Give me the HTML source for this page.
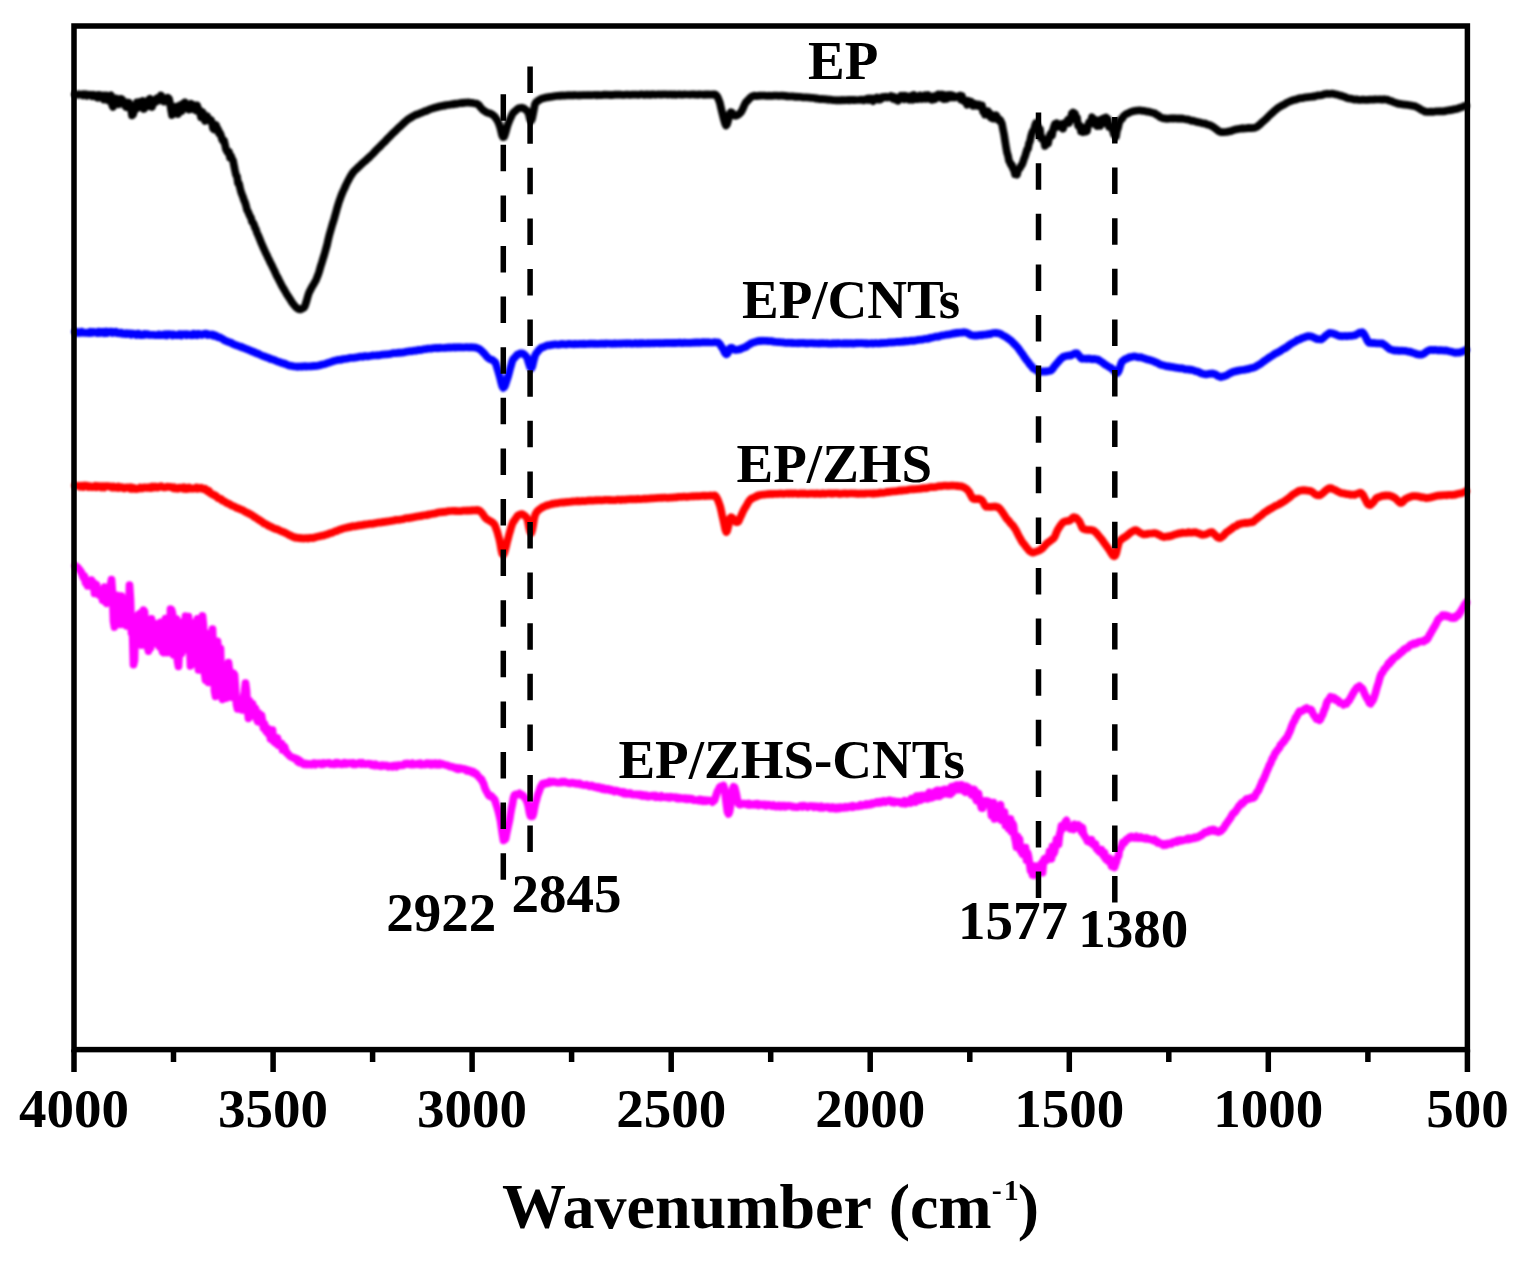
<!DOCTYPE html><html><head><meta charset="utf-8"><title>FTIR</title><style>html,body{margin:0;padding:0;background:#fff;}svg{display:block;}text{font-family:"Liberation Serif","Times New Roman",serif;font-weight:bold;fill:#000;}</style></head><body>
<svg width="1525" height="1262" viewBox="0 0 1525 1262">
<rect x="0" y="0" width="1525" height="1262" fill="#fff"/>
<defs><filter id="soft" x="-2%" y="-10%" width="104%" height="120%"><feGaussianBlur stdDeviation="0.8"/></filter></defs>
<g filter="url(#soft)">
<path d="M75.0,94.2L76.0,94.6L77.0,94.7L78.0,94.8L79.0,94.2L80.0,94.7L81.0,94.5L82.0,94.4L83.0,95.3L84.0,94.2L85.0,95.0L86.0,94.3L87.0,95.8L88.0,94.8L89.0,94.8L90.0,94.6L91.0,95.2L92.0,96.1L93.0,94.8L94.0,95.9L95.0,95.2L96.0,95.3L97.0,97.5L98.0,95.1L99.0,97.7L100.0,95.0L101.0,96.9L102.0,97.6L103.0,95.5L104.0,99.6L105.0,95.5L106.0,97.2L107.0,95.5L108.0,100.3L109.0,96.0L110.0,96.2L111.0,95.4L112.0,104.7L113.0,107.0L114.0,102.3L115.0,100.8L116.0,98.4L117.0,101.1L118.0,99.6L119.0,104.3L120.0,99.0L121.0,98.8L122.0,99.2L123.0,102.4L124.0,103.2L125.0,105.6L126.0,107.0L127.0,102.4L128.0,106.4L129.0,102.8L130.0,105.1L131.0,109.2L132.0,115.4L133.0,114.6L134.0,111.2L135.0,106.3L136.0,109.2L137.0,102.3L138.0,104.4L139.0,106.7L140.0,101.9L141.0,107.3L142.0,104.6L143.0,100.9L144.0,109.0L145.0,102.4L146.0,102.6L147.0,105.0L148.0,106.1L149.0,99.6L150.0,98.8L151.0,104.8L152.0,107.0L153.0,103.0L154.0,100.1L155.0,102.4L156.0,100.8L157.0,98.3L158.0,100.7L159.0,100.6L160.0,99.6L161.0,95.4L162.0,98.1L163.0,98.6L164.0,101.6L165.0,98.1L166.0,99.6L167.0,101.6L168.0,97.8L169.0,98.9L170.0,103.2L171.0,109.6L172.0,115.0L173.0,110.2L174.0,108.3L175.0,107.0L176.0,106.7L177.0,109.4L178.0,114.0L179.0,109.8L180.0,105.4L181.0,110.4L182.0,110.9L183.0,103.9L184.0,107.3L185.0,102.3L186.0,105.8L187.0,106.2L188.0,105.9L189.0,109.6L190.0,106.1L191.0,103.7L192.0,109.0L193.0,104.7L194.0,106.4L195.0,106.1L196.0,110.5L197.0,105.4L198.0,108.1L199.0,109.9L200.0,112.5L201.0,117.2L202.0,111.8L203.0,113.0L204.0,118.7L205.0,121.0L206.0,118.7L207.0,116.0L208.0,118.6L209.0,119.1L210.0,120.9L211.0,120.1L212.0,122.9L213.0,128.4L214.0,129.5L215.0,126.0L216.0,125.2L217.0,128.1L218.0,129.3L219.0,133.2L220.0,133.0L221.0,135.4L222.0,139.3L223.0,140.9L224.0,140.5L225.0,144.7L226.0,149.4L227.0,151.2L228.0,152.9L229.0,151.8L230.0,157.6L231.0,155.9L232.0,158.9L233.0,160.5L234.0,165.5L235.0,170.5L236.0,174.8L237.0,176.3L238.0,183.3L239.0,183.4L240.0,187.9L241.0,191.9L242.0,194.5L243.0,196.9L244.0,200.3L245.0,202.3L246.0,205.7L247.0,209.8L248.0,211.6L249.0,214.0L250.0,216.3L251.0,217.9L252.0,221.9L253.0,222.6L254.0,224.7L255.0,227.8L256.0,229.5L257.0,232.9L258.0,234.9L259.0,237.2L260.0,239.7L261.0,242.4L262.0,244.6L263.0,246.9L264.0,249.2L265.0,251.3L266.0,253.6L267.0,255.3L268.0,257.9L269.0,259.6L270.0,262.0L271.0,263.7L272.0,265.7L273.0,267.9L274.0,269.9L275.0,272.0L276.0,274.3L277.0,276.4L278.0,278.0L279.0,280.1L280.0,282.2L281.0,284.0L282.0,286.0L283.0,287.6L284.0,289.4L285.0,291.0L286.0,292.8L287.0,294.7L288.0,295.9L289.0,297.8L290.0,299.0L291.0,300.8L292.0,302.4L293.0,303.7L294.0,305.0L295.0,306.1L296.0,307.3L297.0,308.1L298.0,308.7L299.0,309.2L300.0,309.3L301.0,309.3L302.0,308.7L303.0,308.1L304.0,307.7L305.0,305.9L306.0,302.8L307.0,299.4L308.0,295.7L309.0,292.8L310.0,290.8L311.0,288.9L312.0,286.9L313.0,285.3L314.0,283.7L315.0,281.8L316.0,280.2L317.0,277.5L318.0,275.1L319.0,272.1L320.0,268.6L321.0,265.2L322.0,262.2L323.0,258.8L324.0,255.7L325.0,252.2L326.0,248.6L327.0,245.2L328.0,240.5L329.0,236.3L330.0,232.7L331.0,229.2L332.0,225.7L333.0,222.5L334.0,219.4L335.0,215.8L336.0,212.2L337.0,208.4L338.0,205.3L339.0,201.8L340.0,199.2L341.0,196.3L342.0,193.8L343.0,191.4L344.0,189.4L345.0,187.1L346.0,184.9L347.0,182.9L348.0,180.9L349.0,179.1L350.0,177.1L351.0,175.5L352.0,174.0L353.0,172.5L354.0,171.3L355.0,170.4L356.0,169.2L357.0,168.6L358.0,167.3L359.0,166.5L360.0,165.8L361.0,164.6L362.0,163.8L363.0,162.8L364.0,161.9L365.0,161.0L366.0,160.5L367.0,159.2L368.0,158.2L369.0,157.7L370.0,156.3L371.0,155.6L372.0,154.6L373.0,153.6L374.0,152.7L375.0,151.4L376.0,150.3L377.0,149.4L378.0,148.4L379.0,147.3L380.0,146.6L381.0,145.3L382.0,144.4L383.0,143.4L384.0,142.3L385.0,141.6L386.0,140.3L387.0,139.3L388.0,138.2L389.0,137.3L390.0,136.3L391.0,135.3L392.0,134.1L393.0,133.2L394.0,132.2L395.0,131.5L396.0,130.3L397.0,129.4L398.0,128.3L399.0,127.4L400.0,126.8L401.0,125.5L402.0,124.9L403.0,123.7L404.0,123.0L405.0,121.8L406.0,121.1L407.0,120.3L408.0,119.3L409.0,118.6L410.0,118.3L411.0,117.4L412.0,117.1L413.0,116.2L414.0,115.8L415.0,115.3L416.0,114.8L417.0,114.3L418.0,114.3L419.0,113.7L420.0,113.2L421.0,112.8L422.0,112.6L423.0,112.1L424.0,111.5L425.0,111.1L426.0,111.1L427.0,110.5L428.0,110.2L429.0,109.6L430.0,109.2L431.0,108.9L432.0,108.6L433.0,108.3L434.0,107.9L435.0,107.8L436.0,107.3L437.0,107.1L438.0,107.1L439.0,106.4L440.0,106.4L441.0,106.3L442.0,105.8L443.0,106.0L444.0,105.4L445.0,105.6L446.0,105.0L447.0,105.0L448.0,104.8L449.0,104.8L450.0,104.7L451.0,104.3L452.0,104.5L453.0,104.2L454.0,104.3L455.0,103.7L456.0,103.7L457.0,103.9L458.0,103.5L459.0,103.3L460.0,103.1L461.0,103.3L462.0,102.7L463.0,103.1L464.0,102.7L465.0,102.8L466.0,102.5L467.0,102.7L468.0,102.3L469.0,102.5L470.0,102.8L471.0,103.0L472.0,102.9L473.0,102.9L474.0,103.4L475.0,103.5L476.0,103.5L477.0,103.8L478.0,104.5L479.0,105.2L480.0,106.7L481.0,107.9L482.0,108.9L483.0,110.1L484.0,110.6L485.0,111.2L486.0,112.0L487.0,112.5L488.0,112.9L489.0,113.0L490.0,113.4L491.0,114.0L492.0,114.4L493.0,115.1L494.0,115.9L495.0,116.9L496.0,118.6L497.0,119.8L498.0,121.7L499.0,124.0L500.0,126.9L501.0,130.9L502.0,135.0L503.0,137.1L504.0,136.9L505.0,134.5L506.0,131.1L507.0,127.2L508.0,124.1L509.0,121.6L510.0,119.1L511.0,117.1L512.0,114.8L513.0,113.2L514.0,112.1L515.0,111.2L516.0,110.4L517.0,109.4L518.0,108.7L519.0,108.1L520.0,108.0L521.0,107.9L522.0,107.7L523.0,108.3L524.0,108.4L525.0,109.4L526.0,109.9L527.0,111.0L528.0,112.1L529.0,115.1L530.0,119.2L531.0,120.8L532.0,119.0L533.0,114.3L534.0,109.0L535.0,104.1L536.0,102.4L537.0,101.8L538.0,100.8L539.0,100.3L540.0,99.5L541.0,99.2L542.0,98.5L543.0,98.3L544.0,98.1L545.0,97.9L546.0,97.4L547.0,97.3L548.0,97.4L549.0,96.8L550.0,97.0L551.0,96.8L552.0,96.8L553.0,96.4L554.0,96.3L555.0,96.2L556.0,96.0L557.0,95.8L558.0,95.9L559.0,95.7L560.0,95.7L561.0,95.8L562.0,95.5L563.0,95.4L564.0,95.7L565.0,95.7L566.0,95.3L567.0,95.5L568.0,95.3L569.0,95.5L570.0,95.2L571.0,95.5L572.0,95.5L573.0,95.1L574.0,95.3L575.0,95.2L576.0,95.1L577.0,95.4L578.0,95.4L579.0,95.2L580.0,95.2L581.0,95.4L582.0,95.1L583.0,95.1L584.0,95.0L585.0,95.1L586.0,95.0L587.0,95.0L588.0,95.2L589.0,95.0L590.0,95.2L591.0,95.2L592.0,95.1L593.0,95.0L594.0,95.0L595.0,94.8L596.0,95.2L597.0,95.3L598.0,94.9L599.0,95.1L600.0,95.0L601.0,95.2L602.0,95.1L603.0,94.8L604.0,94.7L605.0,94.8L606.0,94.7L607.0,95.0L608.0,94.7L609.0,95.0L610.0,95.1L611.0,94.7L612.0,95.1L613.0,95.0L614.0,94.6L615.0,94.8L616.0,94.6L617.0,94.8L618.0,94.6L619.0,94.8L620.0,94.6L621.0,94.6L622.0,95.0L623.0,94.8L624.0,94.8L625.0,94.8L626.0,94.6L627.0,94.5L628.0,94.6L629.0,94.8L630.0,94.8L631.0,94.8L632.0,94.6L633.0,94.6L634.0,94.7L635.0,94.6L636.0,94.5L637.0,94.6L638.0,94.9L639.0,94.9L640.0,94.4L641.0,94.4L642.0,94.4L643.0,94.5L644.0,94.8L645.0,94.5L646.0,94.4L647.0,94.8L648.0,94.4L649.0,94.5L650.0,94.8L651.0,94.8L652.0,94.3L653.0,94.4L654.0,94.4L655.0,94.7L656.0,94.6L657.0,94.5L658.0,94.4L659.0,94.4L660.0,94.5L661.0,94.7L662.0,94.4L663.0,94.4L664.0,94.4L665.0,94.4L666.0,94.3L667.0,94.5L668.0,94.7L669.0,94.5L670.0,94.4L671.0,94.4L672.0,94.8L673.0,94.6L674.0,94.4L675.0,94.7L676.0,94.8L677.0,94.5L678.0,94.5L679.0,94.4L680.0,94.4L681.0,94.7L682.0,94.6L683.0,94.7L684.0,94.3L685.0,94.4L686.0,94.5L687.0,94.5L688.0,94.5L689.0,94.5L690.0,94.7L691.0,94.5L692.0,94.4L693.0,94.5L694.0,94.4L695.0,94.6L696.0,94.6L697.0,94.6L698.0,94.8L699.0,94.5L700.0,94.3L701.0,94.5L702.0,94.5L703.0,94.7L704.0,94.8L705.0,94.3L706.0,94.8L707.0,94.3L708.0,94.6L709.0,94.3L710.0,94.7L711.0,94.5L712.0,94.4L713.0,94.8L714.0,94.3L715.0,94.4L716.0,94.9L717.0,96.1L718.0,98.0L719.0,100.4L720.0,103.3L721.0,107.8L722.0,112.0L723.0,116.1L724.0,120.0L725.0,123.5L726.0,125.5L727.0,124.3L728.0,121.1L729.0,116.4L730.0,113.3L731.0,112.2L732.0,112.7L733.0,114.3L734.0,115.3L735.0,115.8L736.0,115.6L737.0,115.4L738.0,114.8L739.0,114.1L740.0,113.2L741.0,112.1L742.0,110.5L743.0,108.3L744.0,106.0L745.0,103.8L746.0,102.0L747.0,101.4L748.0,100.0L749.0,99.3L750.0,97.9L751.0,97.3L752.0,96.4L753.0,96.3L754.0,95.7L755.0,95.8L756.0,96.1L757.0,95.9L758.0,95.8L759.0,95.7L760.0,95.8L761.0,95.6L762.0,95.6L763.0,95.7L764.0,95.6L765.0,95.7L766.0,95.8L767.0,96.0L768.0,96.0L769.0,95.7L770.0,95.8L771.0,95.9L772.0,95.9L773.0,95.7L774.0,95.6L775.0,95.7L776.0,95.7L777.0,95.7L778.0,95.7L779.0,95.9L780.0,95.7L781.0,95.7L782.0,95.7L783.0,95.8L784.0,95.7L785.0,95.9L786.0,96.3L787.0,96.2L788.0,96.2L789.0,96.4L790.0,96.4L791.0,96.3L792.0,96.4L793.0,96.3L794.0,96.5L795.0,96.9L796.0,96.7L797.0,96.7L798.0,96.9L799.0,96.9L800.0,96.9L801.0,97.0L802.0,97.0L803.0,97.5L804.0,97.5L805.0,97.4L806.0,97.3L807.0,97.4L808.0,97.5L809.0,97.7L810.0,97.7L811.0,97.8L812.0,97.8L813.0,97.9L814.0,98.0L815.0,98.1L816.0,98.7L817.0,98.4L818.0,98.5L819.0,99.0L820.0,99.2L821.0,99.1L822.0,98.9L823.0,99.0L824.0,99.1L825.0,99.2L826.0,99.5L827.0,99.4L828.0,99.8L829.0,99.7L830.0,99.7L831.0,99.7L832.0,100.0L833.0,100.2L834.0,100.1L835.0,100.0L836.0,100.4L837.0,100.2L838.0,100.2L839.0,100.4L840.0,100.3L841.0,100.0L842.0,100.3L843.0,100.1L844.0,100.3L845.0,100.2L846.0,100.2L847.0,100.0L848.0,99.9L849.0,100.4L850.0,99.8L851.0,99.8L852.0,100.0L853.0,100.2L854.0,99.9L855.0,100.2L856.0,100.0L857.0,100.0L858.0,100.0L859.0,100.0L860.0,100.0L861.0,99.5L862.0,99.9L863.0,99.6L864.0,100.4L865.0,99.7L866.0,99.3L867.0,98.8L868.0,99.9L869.0,98.5L870.0,99.7L871.0,98.6L872.0,99.7L873.0,101.1L874.0,98.5L875.0,99.1L876.0,99.0L877.0,97.6L878.0,99.7L879.0,99.4L880.0,99.7L881.0,97.5L882.0,97.1L883.0,97.9L884.0,96.8L885.0,97.2L886.0,96.6L887.0,97.6L888.0,97.3L889.0,97.1L890.0,97.3L891.0,96.2L892.0,97.5L893.0,98.7L894.0,96.8L895.0,98.0L896.0,99.8L897.0,97.7L898.0,100.9L899.0,99.4L900.0,97.7L901.0,95.7L902.0,97.1L903.0,95.9L904.0,99.2L905.0,95.8L906.0,96.1L907.0,96.0L908.0,99.1L909.0,99.7L910.0,98.4L911.0,99.3L912.0,95.6L913.0,99.8L914.0,95.0L915.0,95.9L916.0,99.0L917.0,97.8L918.0,99.0L919.0,98.5L920.0,95.5L921.0,96.3L922.0,99.0L923.0,97.5L924.0,97.9L925.0,95.1L926.0,98.7L927.0,96.7L928.0,95.1L929.0,96.8L930.0,99.0L931.0,96.6L932.0,99.9L933.0,99.0L934.0,96.3L935.0,99.2L936.0,97.6L937.0,95.2L938.0,94.4L939.0,94.4L940.0,96.3L941.0,97.8L942.0,94.4L943.0,94.8L944.0,99.2L945.0,98.0L946.0,95.1L947.0,98.7L948.0,95.9L949.0,94.9L950.0,95.2L951.0,94.9L952.0,97.5L953.0,95.4L954.0,97.0L955.0,97.5L956.0,96.9L957.0,96.7L958.0,96.4L959.0,95.9L960.0,95.5L961.0,99.6L962.0,96.0L963.0,100.4L964.0,101.2L965.0,101.9L966.0,101.1L967.0,104.7L968.0,100.7L969.0,102.2L970.0,102.0L971.0,101.7L972.0,104.8L973.0,105.9L974.0,105.9L975.0,103.7L976.0,104.3L977.0,105.1L978.0,105.9L979.0,104.7L980.0,105.9L981.0,105.7L982.0,105.4L983.0,111.5L984.0,109.9L985.0,114.6L986.0,111.6L987.0,112.5L988.0,111.3L989.0,115.7L990.0,113.5L991.0,117.6L992.0,115.0L993.0,118.6L994.0,118.7L995.0,116.8L996.0,115.2L997.0,116.8L998.0,119.4L999.0,120.6L1000.0,119.8L1001.0,121.7L1002.0,124.1L1003.0,129.4L1004.0,134.2L1005.0,140.7L1006.0,146.8L1007.0,152.5L1008.0,155.7L1009.0,160.8L1010.0,162.5L1011.0,164.9L1012.0,165.0L1013.0,168.7L1014.0,170.2L1015.0,174.2L1016.0,173.3L1017.0,174.7L1018.0,170.6L1019.0,168.9L1020.0,168.1L1021.0,165.7L1022.0,164.7L1023.0,162.1L1024.0,158.8L1025.0,156.5L1026.0,153.2L1027.0,149.6L1028.0,148.8L1029.0,143.6L1030.0,141.2L1031.0,136.6L1032.0,133.0L1033.0,130.7L1034.0,129.9L1035.0,125.6L1036.0,123.0L1037.0,126.0L1038.0,127.0L1039.0,129.9L1040.0,129.1L1041.0,138.0L1042.0,137.5L1043.0,139.7L1044.0,141.1L1045.0,145.9L1046.0,141.2L1047.0,140.5L1048.0,143.7L1049.0,138.6L1050.0,135.0L1051.0,133.3L1052.0,135.7L1053.0,129.8L1054.0,126.6L1055.0,124.0L1056.0,127.4L1057.0,123.2L1058.0,126.5L1059.0,126.2L1060.0,126.5L1061.0,127.1L1062.0,123.9L1063.0,128.7L1064.0,125.8L1065.0,123.2L1066.0,122.2L1067.0,122.1L1068.0,119.7L1069.0,123.1L1070.0,118.4L1071.0,117.4L1072.0,113.2L1073.0,112.4L1074.0,112.9L1075.0,113.7L1076.0,119.8L1077.0,117.6L1078.0,125.4L1079.0,126.8L1080.0,125.6L1081.0,131.4L1082.0,127.8L1083.0,132.2L1084.0,128.0L1085.0,130.3L1086.0,131.6L1087.0,131.1L1088.0,125.3L1089.0,122.4L1090.0,122.8L1091.0,121.0L1092.0,117.3L1093.0,120.3L1094.0,123.8L1095.0,119.6L1096.0,122.9L1097.0,126.1L1098.0,122.6L1099.0,125.7L1100.0,125.9L1101.0,119.6L1102.0,119.7L1103.0,118.5L1104.0,123.2L1105.0,120.1L1106.0,117.4L1107.0,119.2L1108.0,119.3L1109.0,126.8L1110.0,126.3L1111.0,127.6L1112.0,126.2L1113.0,131.2L1114.0,134.6L1115.0,135.1L1116.0,136.5L1117.0,130.6L1118.0,127.9L1119.0,123.4L1120.0,120.9L1121.0,119.0L1122.0,119.0L1123.0,117.0L1124.0,115.7L1125.0,115.1L1126.0,114.1L1127.0,113.6L1128.0,113.5L1129.0,112.7L1130.0,112.3L1131.0,111.9L1132.0,111.6L1133.0,111.3L1134.0,111.0L1135.0,111.0L1136.0,110.6L1137.0,110.7L1138.0,110.5L1139.0,110.4L1140.0,110.4L1141.0,110.5L1142.0,110.8L1143.0,110.8L1144.0,110.8L1145.0,111.1L1146.0,111.4L1147.0,111.6L1148.0,111.5L1149.0,111.8L1150.0,112.2L1151.0,112.3L1152.0,112.6L1153.0,113.0L1154.0,113.0L1155.0,113.4L1156.0,114.3L1157.0,115.0L1158.0,115.3L1159.0,116.0L1160.0,117.1L1161.0,117.5L1162.0,117.9L1163.0,118.2L1164.0,118.5L1165.0,118.3L1166.0,118.8L1167.0,118.8L1168.0,118.6L1169.0,118.8L1170.0,118.4L1171.0,118.3L1172.0,118.6L1173.0,118.4L1174.0,118.6L1175.0,118.3L1176.0,118.4L1177.0,118.6L1178.0,118.8L1179.0,118.3L1180.0,118.5L1181.0,118.8L1182.0,118.4L1183.0,118.7L1184.0,119.0L1185.0,119.0L1186.0,119.4L1187.0,119.4L1188.0,119.6L1189.0,119.7L1190.0,120.1L1191.0,120.7L1192.0,120.9L1193.0,120.7L1194.0,121.0L1195.0,121.2L1196.0,121.9L1197.0,121.8L1198.0,122.0L1199.0,122.5L1200.0,122.4L1201.0,122.7L1202.0,123.1L1203.0,123.5L1204.0,123.3L1205.0,123.5L1206.0,123.8L1207.0,124.5L1208.0,124.5L1209.0,125.0L1210.0,125.0L1211.0,125.8L1212.0,126.1L1213.0,126.9L1214.0,127.4L1215.0,128.2L1216.0,129.1L1217.0,129.6L1218.0,130.7L1219.0,131.2L1220.0,131.7L1221.0,132.1L1222.0,132.1L1223.0,132.1L1224.0,132.2L1225.0,132.0L1226.0,132.0L1227.0,132.0L1228.0,131.5L1229.0,131.3L1230.0,131.3L1231.0,131.1L1232.0,130.5L1233.0,130.2L1234.0,130.2L1235.0,129.5L1236.0,129.3L1237.0,129.3L1238.0,129.0L1239.0,128.9L1240.0,128.5L1241.0,128.6L1242.0,128.2L1243.0,128.6L1244.0,128.4L1245.0,128.5L1246.0,128.3L1247.0,128.3L1248.0,127.9L1249.0,128.1L1250.0,127.8L1251.0,128.2L1252.0,128.1L1253.0,127.8L1254.0,128.0L1255.0,127.8L1256.0,127.2L1257.0,126.8L1258.0,125.9L1259.0,125.1L1260.0,124.5L1261.0,123.3L1262.0,122.4L1263.0,121.5L1264.0,120.9L1265.0,119.9L1266.0,118.9L1267.0,118.1L1268.0,116.9L1269.0,115.9L1270.0,114.9L1271.0,114.1L1272.0,113.0L1273.0,112.4L1274.0,111.2L1275.0,110.3L1276.0,109.6L1277.0,108.7L1278.0,107.9L1279.0,107.3L1280.0,106.7L1281.0,106.1L1282.0,105.5L1283.0,105.0L1284.0,104.6L1285.0,104.1L1286.0,103.3L1287.0,102.8L1288.0,102.2L1289.0,101.8L1290.0,101.4L1291.0,100.9L1292.0,100.7L1293.0,100.1L1294.0,100.0L1295.0,99.7L1296.0,99.6L1297.0,99.3L1298.0,98.7L1299.0,98.6L1300.0,98.3L1301.0,98.0L1302.0,98.1L1303.0,98.2L1304.0,97.5L1305.0,97.4L1306.0,97.3L1307.0,97.3L1308.0,97.0L1309.0,97.1L1310.0,96.8L1311.0,97.0L1312.0,96.5L1313.0,96.4L1314.0,96.6L1315.0,96.0L1316.0,96.1L1317.0,95.6L1318.0,95.4L1319.0,95.5L1320.0,95.4L1321.0,95.0L1322.0,95.1L1323.0,94.8L1324.0,94.2L1325.0,94.1L1326.0,94.0L1327.0,93.7L1328.0,93.8L1329.0,93.9L1330.0,93.8L1331.0,93.8L1332.0,93.6L1333.0,93.8L1334.0,93.8L1335.0,94.2L1336.0,94.5L1337.0,94.6L1338.0,94.8L1339.0,95.2L1340.0,95.6L1341.0,95.5L1342.0,96.0L1343.0,96.5L1344.0,96.5L1345.0,97.0L1346.0,97.5L1347.0,98.0L1348.0,98.2L1349.0,98.5L1350.0,98.6L1351.0,98.7L1352.0,98.8L1353.0,99.2L1354.0,99.5L1355.0,99.7L1356.0,99.3L1357.0,99.3L1358.0,99.7L1359.0,100.0L1360.0,100.0L1361.0,99.9L1362.0,99.7L1363.0,99.6L1364.0,99.8L1365.0,99.9L1366.0,99.9L1367.0,99.9L1368.0,100.0L1369.0,99.5L1370.0,99.7L1371.0,99.6L1372.0,99.6L1373.0,99.6L1374.0,99.6L1375.0,99.4L1376.0,99.4L1377.0,99.5L1378.0,99.5L1379.0,99.4L1380.0,99.5L1381.0,99.4L1382.0,99.6L1383.0,99.6L1384.0,99.2L1385.0,99.5L1386.0,99.6L1387.0,99.6L1388.0,99.8L1389.0,100.5L1390.0,100.8L1391.0,100.8L1392.0,101.4L1393.0,102.0L1394.0,102.2L1395.0,102.6L1396.0,103.0L1397.0,103.3L1398.0,103.8L1399.0,103.7L1400.0,103.9L1401.0,104.1L1402.0,104.3L1403.0,104.4L1404.0,104.6L1405.0,104.5L1406.0,104.8L1407.0,104.9L1408.0,104.9L1409.0,105.3L1410.0,105.3L1411.0,105.4L1412.0,105.8L1413.0,105.9L1414.0,106.0L1415.0,106.1L1416.0,106.8L1417.0,107.1L1418.0,107.7L1419.0,108.4L1420.0,108.8L1421.0,109.7L1422.0,110.3L1423.0,110.5L1424.0,110.9L1425.0,111.7L1426.0,111.5L1427.0,112.0L1428.0,111.9L1429.0,111.9L1430.0,111.6L1431.0,112.0L1432.0,111.6L1433.0,111.9L1434.0,111.7L1435.0,111.5L1436.0,111.4L1437.0,111.3L1438.0,111.4L1439.0,111.3L1440.0,111.2L1441.0,111.4L1442.0,111.5L1443.0,111.2L1444.0,111.3L1445.0,111.2L1446.0,110.7L1447.0,110.6L1448.0,110.5L1449.0,110.2L1450.0,110.3L1451.0,110.0L1452.0,109.7L1453.0,109.8L1454.0,109.3L1455.0,109.0L1456.0,109.1L1457.0,108.7L1458.0,108.6L1459.0,108.0L1460.0,107.7L1461.0,107.4L1462.0,107.1L1463.0,106.8L1464.0,106.3L1465.0,105.8L1466.0,105.8" fill="none" stroke="#000" stroke-width="7.7" stroke-linejoin="round" stroke-linecap="round"/>
<path d="M75.2,331.9L76.2,333.0L77.2,332.0L78.2,332.7L79.2,332.9L80.2,332.8L81.2,331.5L82.2,331.7L83.2,332.8L84.2,332.6L85.2,332.9L86.2,332.7L87.2,332.7L88.2,333.0L89.2,333.1L90.2,331.8L91.2,332.9L92.2,333.0L93.2,331.8L94.2,332.1L95.2,332.5L96.2,332.5L97.2,333.0L98.2,331.5L99.2,331.6L100.2,332.9L101.2,331.8L102.2,332.1L103.2,331.6L104.2,333.1L105.2,332.2L106.2,331.5L107.2,333.1L108.2,332.6L109.2,331.8L110.2,331.7L111.2,331.7L112.2,332.8L113.2,331.9L114.2,332.0L115.2,332.7L116.2,331.9L117.2,333.2L118.2,333.2L119.2,333.3L120.2,332.6L121.2,332.6L122.2,333.7L123.2,334.0L124.2,333.6L125.2,334.0L126.2,333.2L127.2,334.1L128.2,333.4L129.2,333.5L130.2,333.4L131.2,334.7L132.2,333.6L133.2,333.7L134.2,333.9L135.2,334.0L136.2,335.0L137.2,333.6L138.2,333.6L139.2,333.8L140.2,335.1L141.2,335.1L142.2,335.2L143.2,334.6L144.2,333.9L145.2,334.8L146.2,334.1L147.2,334.0L148.2,334.2L149.2,335.0L150.2,334.9L151.2,335.0L152.2,334.9L153.2,334.9L154.2,334.9L155.2,335.2L156.2,335.1L157.2,335.1L158.2,334.5L159.2,334.4L160.2,335.2L161.2,335.1L162.2,335.2L163.2,334.5L164.2,334.3L165.2,335.3L166.2,334.4L167.2,335.4L168.2,334.1L169.2,334.2L170.2,334.3L171.2,334.3L172.2,335.4L173.2,334.3L174.2,334.5L175.2,335.1L176.2,335.0L177.2,335.3L178.2,335.1L179.2,334.1L180.2,334.1L181.2,335.5L182.2,334.3L183.2,334.2L184.2,334.4L185.2,334.1L186.2,335.2L187.2,334.3L188.2,334.9L189.2,334.4L190.2,334.9L191.2,335.4L192.2,334.5L193.2,333.8L194.2,335.0L195.2,334.0L196.2,334.0L197.2,335.1L198.2,333.9L199.2,333.9L200.2,334.2L201.2,334.9L202.2,334.8L203.2,334.1L204.2,333.8L205.2,333.7L206.2,333.7L207.2,334.9L208.2,334.1L209.2,334.4L210.2,335.0L211.2,334.7L212.2,334.4L213.2,335.8L214.2,335.0L215.2,335.5L216.2,335.5L217.2,336.9L218.2,337.4L219.2,337.2L220.2,337.5L221.2,338.3L222.2,338.7L223.2,339.2L224.2,340.2L225.2,340.6L226.2,341.1L227.2,341.3L228.2,341.9L229.2,342.2L230.2,342.5L231.2,342.8L232.2,343.7L233.2,343.8L234.2,344.5L235.2,344.9L236.2,345.0L237.2,345.6L238.2,345.9L239.2,346.4L240.2,346.9L241.2,346.7L242.2,347.6L243.2,347.6L244.2,348.0L245.2,348.7L246.2,348.8L247.2,349.4L248.2,349.6L249.2,350.0L250.2,350.6L251.2,350.8L252.2,351.7L253.2,351.5L254.2,352.0L255.2,352.9L256.2,352.9L257.2,353.6L258.2,353.7L259.2,354.4L260.2,354.7L261.2,355.3L262.2,355.7L263.2,356.1L264.2,356.3L265.2,356.8L266.2,357.3L267.2,357.4L268.2,358.0L269.2,358.1L270.2,358.9L271.2,359.2L272.2,359.2L273.2,359.6L274.2,360.1L275.2,360.3L276.2,360.9L277.2,361.4L278.2,361.7L279.2,361.9L280.2,362.2L281.2,362.9L282.2,363.0L283.2,363.1L284.2,363.8L285.2,363.7L286.2,364.4L287.2,364.7L288.2,365.3L289.2,365.6L290.2,365.5L291.2,366.0L292.2,365.9L293.2,366.4L294.2,366.4L295.2,366.5L296.2,366.5L297.2,366.8L298.2,366.7L299.2,366.7L300.2,366.5L301.2,366.4L302.2,366.8L303.2,366.4L304.2,366.2L305.2,366.2L306.2,366.6L307.2,366.3L308.2,366.5L309.2,366.4L310.2,366.4L311.2,366.0L312.2,366.3L313.2,365.9L314.2,365.9L315.2,366.1L316.2,365.8L317.2,365.9L318.2,365.5L319.2,365.3L320.2,365.3L321.2,364.8L322.2,364.5L323.2,364.4L324.2,364.0L325.2,364.0L326.2,363.5L327.2,363.1L328.2,362.7L329.2,362.7L330.2,362.3L331.2,361.9L332.2,361.4L333.2,361.3L334.2,360.8L335.2,360.6L336.2,360.5L337.2,360.1L338.2,359.9L339.2,360.0L340.2,360.0L341.2,359.4L342.2,359.6L343.2,359.1L344.2,359.0L345.2,358.8L346.2,358.9L347.2,358.6L348.2,358.5L349.2,358.0L350.2,357.9L351.2,357.8L352.2,357.9L353.2,357.9L354.2,357.7L355.2,357.6L356.2,357.4L357.2,357.3L358.2,357.1L359.2,356.7L360.2,356.7L361.2,356.5L362.2,356.8L363.2,356.7L364.2,356.2L365.2,356.2L366.2,356.0L367.2,356.4L368.2,356.3L369.2,356.1L370.2,356.0L371.2,355.8L372.2,355.6L373.2,355.4L374.2,355.5L375.2,355.5L376.2,355.5L377.2,355.0L378.2,355.4L379.2,355.2L380.2,355.1L381.2,354.6L382.2,354.7L383.2,354.7L384.2,354.3L385.2,354.5L386.2,354.4L387.2,354.3L388.2,354.1L389.2,354.1L390.2,354.0L391.2,353.8L392.2,353.3L393.2,353.2L394.2,353.2L395.2,353.1L396.2,353.2L397.2,352.9L398.2,352.8L399.2,352.5L400.2,352.8L401.2,352.5L402.2,352.6L403.2,352.4L404.2,352.3L405.2,352.1L406.2,351.6L407.2,351.6L408.2,351.6L409.2,351.3L410.2,351.1L411.2,351.3L412.2,351.2L413.2,350.8L414.2,350.6L415.2,350.8L416.2,350.7L417.2,350.2L418.2,350.1L419.2,349.9L420.2,350.1L421.2,350.0L422.2,349.8L423.2,349.3L424.2,349.2L425.2,349.2L426.2,349.1L427.2,348.7L428.2,348.6L429.2,348.7L430.2,348.7L431.2,348.6L432.2,348.4L433.2,348.0L434.2,348.0L435.2,348.2L436.2,347.9L437.2,348.3L438.2,347.8L439.2,348.1L440.2,347.7L441.2,348.0L442.2,348.0L443.2,348.0L444.2,347.9L445.2,347.9L446.2,347.8L447.2,347.5L448.2,347.6L449.2,347.4L450.2,347.4L451.2,347.7L452.2,347.3L453.2,347.3L454.2,347.2L455.2,347.6L456.2,347.2L457.2,347.5L458.2,347.1L459.2,347.5L460.2,347.1L461.2,347.4L462.2,347.5L463.2,347.4L464.2,347.3L465.2,347.4L466.2,347.1L467.2,347.0L468.2,347.4L469.2,347.4L470.2,347.0L471.2,347.2L472.2,347.5L473.2,347.3L474.2,347.4L475.2,347.6L476.2,347.7L477.2,348.3L478.2,348.4L479.2,348.9L480.2,349.6L481.2,350.5L482.2,351.4L483.2,352.7L484.2,353.4L485.2,354.7L486.2,355.8L487.2,357.1L488.2,358.0L489.2,358.7L490.2,359.3L491.2,359.7L492.2,359.9L493.2,360.6L494.2,361.4L495.2,362.2L496.2,364.7L497.2,368.2L498.2,371.4L499.2,374.8L500.2,378.6L501.2,382.7L502.2,386.1L503.2,387.9L504.2,387.2L505.2,385.4L506.2,382.4L507.2,379.2L508.2,376.0L509.2,372.3L510.2,368.4L511.2,365.0L512.2,361.4L513.2,359.2L514.2,358.1L515.2,357.2L516.2,355.9L517.2,354.8L518.2,354.3L519.2,354.1L520.2,353.3L521.2,353.5L522.2,353.4L523.2,353.7L524.2,354.5L525.2,355.4L526.2,356.5L527.2,357.8L528.2,361.4L529.2,364.6L530.2,367.5L531.2,368.4L532.2,366.8L533.2,362.7L534.2,358.6L535.2,355.1L536.2,353.4L537.2,352.2L538.2,350.9L539.2,349.5L540.2,348.9L541.2,347.7L542.2,347.6L543.2,347.0L544.2,346.7L545.2,346.2L546.2,345.8L547.2,345.5L548.2,345.2L549.2,345.4L550.2,345.3L551.2,344.7L552.2,345.0L553.2,344.8L554.2,344.4L555.2,344.3L556.2,344.3L557.2,344.7L558.2,344.5L559.2,344.6L560.2,344.2L561.2,344.1L562.2,344.3L563.2,344.0L564.2,344.2L565.2,344.3L566.2,344.4L567.2,344.3L568.2,343.9L569.2,343.9L570.2,343.9L571.2,344.2L572.2,344.2L573.2,344.2L574.2,344.3L575.2,343.9L576.2,344.1L577.2,344.2L578.2,344.2L579.2,343.9L580.2,343.8L581.2,343.8L582.2,344.2L583.2,343.8L584.2,343.7L585.2,344.1L586.2,344.0L587.2,343.9L588.2,344.0L589.2,343.7L590.2,343.8L591.2,343.7L592.2,343.6L593.2,344.0L594.2,343.7L595.2,343.7L596.2,343.9L597.2,343.9L598.2,344.0L599.2,343.9L600.2,343.6L601.2,343.5L602.2,343.8L603.2,343.5L604.2,343.6L605.2,344.0L606.2,343.4L607.2,343.5L608.2,343.5L609.2,343.6L610.2,343.7L611.2,343.5L612.2,343.9L613.2,343.7L614.2,343.4L615.2,343.8L616.2,343.7L617.2,343.5L618.2,343.7L619.2,343.7L620.2,343.4L621.2,343.7L622.2,343.6L623.2,343.3L624.2,343.3L625.2,343.3L626.2,343.6L627.2,343.2L628.2,343.4L629.2,343.4L630.2,343.2L631.2,343.7L632.2,343.6L633.2,343.7L634.2,343.3L635.2,343.2L636.2,343.2L637.2,343.7L638.2,343.6L639.2,343.1L640.2,343.0L641.2,343.6L642.2,343.1L643.2,343.2L644.2,343.5L645.2,343.5L646.2,343.3L647.2,343.5L648.2,343.2L649.2,343.2L650.2,343.3L651.2,343.3L652.2,343.1L653.2,343.3L654.2,343.3L655.2,343.0L656.2,343.2L657.2,343.2L658.2,343.2L659.2,343.2L660.2,343.3L661.2,343.0L662.2,343.1L663.2,343.3L664.2,342.9L665.2,343.2L666.2,342.8L667.2,342.8L668.2,343.2L669.2,342.8L670.2,342.8L671.2,343.2L672.2,342.8L673.2,342.9L674.2,343.1L675.2,342.9L676.2,343.1L677.2,342.8L678.2,343.0L679.2,342.7L680.2,342.6L681.2,343.0L682.2,343.1L683.2,343.0L684.2,342.5L685.2,342.7L686.2,342.9L687.2,342.8L688.2,342.9L689.2,343.0L690.2,342.8L691.2,342.9L692.2,342.5L693.2,342.6L694.2,342.8L695.2,342.3L696.2,342.6L697.2,342.6L698.2,342.3L699.2,342.6L700.2,342.6L701.2,342.5L702.2,342.2L703.2,342.3L704.2,342.5L705.2,342.2L706.2,342.5L707.2,342.5L708.2,342.1L709.2,342.4L710.2,342.5L711.2,342.5L712.2,342.5L713.2,342.5L714.2,342.1L715.2,342.1L716.2,342.5L717.2,342.5L718.2,342.4L719.2,343.4L720.2,344.5L721.2,346.3L722.2,347.8L723.2,349.0L724.2,351.5L725.2,353.2L726.2,354.4L727.2,353.9L728.2,352.3L729.2,349.7L730.2,348.1L731.2,347.7L732.2,348.0L733.2,348.7L734.2,349.5L735.2,350.0L736.2,349.8L737.2,349.8L738.2,349.6L739.2,349.2L740.2,349.3L741.2,348.6L742.2,348.2L743.2,347.8L744.2,347.6L745.2,347.1L746.2,346.8L747.2,345.7L748.2,345.4L749.2,344.4L750.2,344.1L751.2,343.2L752.2,342.9L753.2,342.5L754.2,342.2L755.2,342.0L756.2,341.6L757.2,341.4L758.2,341.1L759.2,340.9L760.2,341.1L761.2,340.7L762.2,340.9L763.2,340.7L764.2,341.0L765.2,340.8L766.2,340.8L767.2,340.9L768.2,341.1L769.2,341.0L770.2,341.0L771.2,341.2L772.2,341.2L773.2,341.7L774.2,341.5L775.2,341.9L776.2,342.0L777.2,342.0L778.2,342.2L779.2,342.2L780.2,342.1L781.2,342.4L782.2,342.4L783.2,342.4L784.2,342.6L785.2,342.9L786.2,342.9L787.2,343.0L788.2,342.6L789.2,343.0L790.2,343.0L791.2,342.7L792.2,343.2L793.2,342.8L794.2,343.2L795.2,343.0L796.2,343.0L797.2,343.2L798.2,343.3L799.2,342.9L800.2,343.2L801.2,342.9L802.2,343.0L803.2,343.1L804.2,342.9L805.2,343.4L806.2,343.2L807.2,343.0L808.2,343.4L809.2,343.1L810.2,343.1L811.2,343.2L812.2,343.1L813.2,343.2L814.2,343.5L815.2,343.2L816.2,343.4L817.2,343.4L818.2,343.4L819.2,343.6L820.2,343.1L821.2,343.5L822.2,343.2L823.2,343.2L824.2,343.3L825.2,343.5L826.2,343.5L827.2,343.2L828.2,343.7L829.2,343.6L830.2,343.5L831.2,343.6L832.2,343.2L833.2,343.6L834.2,343.3L835.2,343.2L836.2,343.6L837.2,343.2L838.2,343.2L839.2,343.2L840.2,343.5L841.2,343.5L842.2,343.6L843.2,343.2L844.2,343.2L845.2,343.6L846.2,343.2L847.2,343.2L848.2,343.6L849.2,343.2L850.2,343.5L851.2,343.2L852.2,343.6L853.2,343.3L854.2,343.6L855.2,343.2L856.2,343.1L857.2,343.3L858.2,343.2L859.2,343.2L860.2,343.2L861.2,343.2L862.2,343.2L863.2,343.2L864.2,343.5L865.2,343.2L866.2,343.6L867.2,343.2L868.2,343.6L869.2,343.5L870.2,343.4L871.2,343.3L872.2,343.2L873.2,343.6L874.2,343.5L875.2,343.1L876.2,343.1L877.2,343.5L878.2,343.3L879.2,343.4L880.2,343.3L881.2,342.8L882.2,343.2L883.2,343.1L884.2,342.9L885.2,342.9L886.2,342.8L887.2,342.9L888.2,342.5L889.2,342.3L890.2,342.3L891.2,342.6L892.2,342.3L893.2,342.2L894.2,342.4L895.2,342.2L896.2,341.9L897.2,341.9L898.2,341.9L899.2,342.1L900.2,341.6L901.2,341.9L902.2,341.8L903.2,341.3L904.2,341.8L905.2,341.2L906.2,341.1L907.2,341.5L908.2,341.4L909.2,341.1L910.2,340.8L911.2,340.6L912.2,341.0L913.2,340.6L914.2,340.8L915.2,340.5L916.2,340.4L917.2,340.1L918.2,339.9L919.2,340.0L920.2,339.6L921.2,339.6L922.2,339.7L923.2,339.2L924.2,339.0L925.2,338.9L926.2,338.8L927.2,338.9L928.2,338.3L929.2,338.6L930.2,337.9L931.2,337.7L932.2,337.7L933.2,337.4L934.2,337.1L935.2,336.8L936.2,336.6L937.2,336.8L938.2,336.6L939.2,336.4L940.2,336.0L941.2,335.5L942.2,335.4L943.2,335.4L944.2,335.0L945.2,335.0L946.2,334.7L947.2,334.7L948.2,334.6L949.2,334.4L950.2,334.2L951.2,334.1L952.2,333.8L953.2,333.3L954.2,333.6L955.2,333.4L956.2,332.9L957.2,332.7L958.2,333.1L959.2,332.6L960.2,332.7L961.2,332.6L962.2,332.6L963.2,332.2L964.2,332.5L965.2,332.4L966.2,332.5L967.2,333.0L968.2,333.8L969.2,333.9L970.2,334.8L971.2,335.2L972.2,335.3L973.2,335.3L974.2,335.8L975.2,335.4L976.2,335.8L977.2,335.3L978.2,335.7L979.2,335.0L980.2,334.9L981.2,335.4L982.2,334.8L983.2,334.7L984.2,334.8L985.2,334.7L986.2,334.3L987.2,334.7L988.2,334.0L989.2,333.9L990.2,334.2L991.2,333.6L992.2,333.2L993.2,333.0L994.2,333.0L995.2,332.9L996.2,333.2L997.2,333.0L998.2,333.2L999.2,333.5L1000.2,333.9L1001.2,334.3L1002.2,335.1L1003.2,335.6L1004.2,336.1L1005.2,336.4L1006.2,337.4L1007.2,337.8L1008.2,338.8L1009.2,339.4L1010.2,340.1L1011.2,340.7L1012.2,341.9L1013.2,343.0L1014.2,344.0L1015.2,344.7L1016.2,346.1L1017.2,346.9L1018.2,348.1L1019.2,349.7L1020.2,351.1L1021.2,352.5L1022.2,353.7L1023.2,355.1L1024.2,357.0L1025.2,358.0L1026.2,359.7L1027.2,361.0L1028.2,361.9L1029.2,363.6L1030.2,364.9L1031.2,365.8L1032.2,367.0L1033.2,368.4L1034.2,368.9L1035.2,369.6L1036.2,370.1L1037.2,370.9L1038.2,371.0L1039.2,371.7L1040.2,371.9L1041.2,371.7L1042.2,371.4L1043.2,371.3L1044.2,371.7L1045.2,371.7L1046.2,371.1L1047.2,371.4L1048.2,371.0L1049.2,371.0L1050.2,370.8L1051.2,370.3L1052.2,369.2L1053.2,368.3L1054.2,366.4L1055.2,365.4L1056.2,364.1L1057.2,363.0L1058.2,361.9L1059.2,360.7L1060.2,359.5L1061.2,358.5L1062.2,357.9L1063.2,356.6L1064.2,356.6L1065.2,356.2L1066.2,355.8L1067.2,355.9L1068.2,355.5L1069.2,355.4L1070.2,355.6L1071.2,355.4L1072.2,354.7L1073.2,354.5L1074.2,353.6L1075.2,353.2L1076.2,353.5L1077.2,353.4L1078.2,354.6L1079.2,355.9L1080.2,357.2L1081.2,358.5L1082.2,358.8L1083.2,358.6L1084.2,358.6L1085.2,358.6L1086.2,359.0L1087.2,358.7L1088.2,358.8L1089.2,358.6L1090.2,358.7L1091.2,359.1L1092.2,359.2L1093.2,359.3L1094.2,358.9L1095.2,359.2L1096.2,359.3L1097.2,359.6L1098.2,359.7L1099.2,360.6L1100.2,360.9L1101.2,361.7L1102.2,362.3L1103.2,363.0L1104.2,364.0L1105.2,364.6L1106.2,365.0L1107.2,365.9L1108.2,366.4L1109.2,367.1L1110.2,367.5L1111.2,368.0L1112.2,369.1L1113.2,369.4L1114.2,370.8L1115.2,371.9L1116.2,372.4L1117.2,373.1L1118.2,372.0L1119.2,369.7L1120.2,366.2L1121.2,363.3L1122.2,361.3L1123.2,360.7L1124.2,359.8L1125.2,359.3L1126.2,358.8L1127.2,358.5L1128.2,358.1L1129.2,357.3L1130.2,357.1L1131.2,357.1L1132.2,356.7L1133.2,356.5L1134.2,356.4L1135.2,356.5L1136.2,356.8L1137.2,357.1L1138.2,357.2L1139.2,357.4L1140.2,357.1L1141.2,357.3L1142.2,357.6L1143.2,358.2L1144.2,358.3L1145.2,358.8L1146.2,359.0L1147.2,359.5L1148.2,359.7L1149.2,359.8L1150.2,360.1L1151.2,360.6L1152.2,360.7L1153.2,361.1L1154.2,361.4L1155.2,362.2L1156.2,362.4L1157.2,362.7L1158.2,363.3L1159.2,364.0L1160.2,364.5L1161.2,364.9L1162.2,364.9L1163.2,365.4L1164.2,365.5L1165.2,365.8L1166.2,366.2L1167.2,366.4L1168.2,366.2L1169.2,366.4L1170.2,367.0L1171.2,366.8L1172.2,366.8L1173.2,367.3L1174.2,367.3L1175.2,367.3L1176.2,367.9L1177.2,368.0L1178.2,367.9L1179.2,368.2L1180.2,368.4L1181.2,368.2L1182.2,368.3L1183.2,368.6L1184.2,369.0L1185.2,369.3L1186.2,369.3L1187.2,369.5L1188.2,369.4L1189.2,369.8L1190.2,369.7L1191.2,369.7L1192.2,370.0L1193.2,370.3L1194.2,370.5L1195.2,371.1L1196.2,371.3L1197.2,371.6L1198.2,371.6L1199.2,372.5L1200.2,372.6L1201.2,373.4L1202.2,373.5L1203.2,373.9L1204.2,374.0L1205.2,374.3L1206.2,374.3L1207.2,374.4L1208.2,373.9L1209.2,373.8L1210.2,373.6L1211.2,373.9L1212.2,373.4L1213.2,373.8L1214.2,373.9L1215.2,374.2L1216.2,374.7L1217.2,375.6L1218.2,376.2L1219.2,376.4L1220.2,376.9L1221.2,377.1L1222.2,376.6L1223.2,376.3L1224.2,376.4L1225.2,375.7L1226.2,375.5L1227.2,375.1L1228.2,374.1L1229.2,373.8L1230.2,373.0L1231.2,372.9L1232.2,372.1L1233.2,371.7L1234.2,371.7L1235.2,371.1L1236.2,371.3L1237.2,370.7L1238.2,370.8L1239.2,370.6L1240.2,370.1L1241.2,370.1L1242.2,370.0L1243.2,370.0L1244.2,369.7L1245.2,369.7L1246.2,369.2L1247.2,369.2L1248.2,369.2L1249.2,368.6L1250.2,368.4L1251.2,368.1L1252.2,367.9L1253.2,367.7L1254.2,367.4L1255.2,367.1L1256.2,366.3L1257.2,365.8L1258.2,365.1L1259.2,364.7L1260.2,364.0L1261.2,363.3L1262.2,362.6L1263.2,361.6L1264.2,361.2L1265.2,360.2L1266.2,359.6L1267.2,359.1L1268.2,358.1L1269.2,357.7L1270.2,356.7L1271.2,356.5L1272.2,355.6L1273.2,355.1L1274.2,354.2L1275.2,353.7L1276.2,353.0L1277.2,352.9L1278.2,352.0L1279.2,351.8L1280.2,351.2L1281.2,350.2L1282.2,349.6L1283.2,349.1L1284.2,348.4L1285.2,348.2L1286.2,347.2L1287.2,346.9L1288.2,345.8L1289.2,345.3L1290.2,344.4L1291.2,343.8L1292.2,343.2L1293.2,342.6L1294.2,342.1L1295.2,341.6L1296.2,341.0L1297.2,340.1L1298.2,339.9L1299.2,339.5L1300.2,339.2L1301.2,338.4L1302.2,338.2L1303.2,337.6L1304.2,337.6L1305.2,336.9L1306.2,336.8L1307.2,336.2L1308.2,336.5L1309.2,336.3L1310.2,336.1L1311.2,336.6L1312.2,336.6L1313.2,337.3L1314.2,337.9L1315.2,338.1L1316.2,338.7L1317.2,339.2L1318.2,339.1L1319.2,339.3L1320.2,339.3L1321.2,339.4L1322.2,338.8L1323.2,338.1L1324.2,337.1L1325.2,336.2L1326.2,335.2L1327.2,334.6L1328.2,333.9L1329.2,333.0L1330.2,332.9L1331.2,333.2L1332.2,333.4L1333.2,333.3L1334.2,334.0L1335.2,334.4L1336.2,334.4L1337.2,335.2L1338.2,335.6L1339.2,336.0L1340.2,336.2L1341.2,335.9L1342.2,336.4L1343.2,336.1L1344.2,336.0L1345.2,335.9L1346.2,336.3L1347.2,336.1L1348.2,336.1L1349.2,335.8L1350.2,336.0L1351.2,336.0L1352.2,335.7L1353.2,335.5L1354.2,335.3L1355.2,335.4L1356.2,334.7L1357.2,334.0L1358.2,333.8L1359.2,332.8L1360.2,332.5L1361.2,332.5L1362.2,332.2L1363.2,332.9L1364.2,334.4L1365.2,336.2L1366.2,338.1L1367.2,340.3L1368.2,342.0L1369.2,342.9L1370.2,343.0L1371.2,342.8L1372.2,343.2L1373.2,342.8L1374.2,343.1L1375.2,343.2L1376.2,343.3L1377.2,343.4L1378.2,343.3L1379.2,343.3L1380.2,343.5L1381.2,343.6L1382.2,343.3L1383.2,344.1L1384.2,344.7L1385.2,345.3L1386.2,346.3L1387.2,347.2L1388.2,347.7L1389.2,348.9L1390.2,349.3L1391.2,349.6L1392.2,349.9L1393.2,350.4L1394.2,350.2L1395.2,350.7L1396.2,350.5L1397.2,350.4L1398.2,350.9L1399.2,350.5L1400.2,350.9L1401.2,350.6L1402.2,350.6L1403.2,351.0L1404.2,350.8L1405.2,350.8L1406.2,351.0L1407.2,351.4L1408.2,351.5L1409.2,351.8L1410.2,351.5L1411.2,352.3L1412.2,352.4L1413.2,353.0L1414.2,353.0L1415.2,353.4L1416.2,354.1L1417.2,354.2L1418.2,354.4L1419.2,354.7L1420.2,354.5L1421.2,354.7L1422.2,354.4L1423.2,354.0L1424.2,353.4L1425.2,352.6L1426.2,351.9L1427.2,351.2L1428.2,350.6L1429.2,350.3L1430.2,349.9L1431.2,349.9L1432.2,349.9L1433.2,350.2L1434.2,349.9L1435.2,349.8L1436.2,350.0L1437.2,350.2L1438.2,350.4L1439.2,350.0L1440.2,350.2L1441.2,350.5L1442.2,350.3L1443.2,350.3L1444.2,350.7L1445.2,350.4L1446.2,350.4L1447.2,350.7L1448.2,351.0L1449.2,351.2L1450.2,351.5L1451.2,351.7L1452.2,351.8L1453.2,352.3L1454.2,352.6L1455.2,352.8L1456.2,352.8L1457.2,352.4L1458.2,352.7L1459.2,352.6L1460.2,352.4L1461.2,352.1L1462.2,351.3L1463.2,351.5L1464.2,350.7L1465.2,350.4L1466.0,349.8" fill="none" stroke="#0000ff" stroke-width="7.7" stroke-linejoin="round" stroke-linecap="round"/>
<path d="M75.2,485.7L76.2,485.6L77.2,485.8L78.2,486.0L79.2,486.4L80.2,486.9L81.2,485.7L82.2,485.9L83.2,486.8L84.2,485.5L85.2,486.4L86.2,485.7L87.2,485.6L88.2,487.1L89.2,486.8L90.2,486.2L91.2,487.0L92.2,487.2L93.2,486.7L94.2,486.3L95.2,485.8L96.2,487.3L97.2,487.1L98.2,485.9L99.2,486.4L100.2,486.1L101.2,487.4L102.2,486.3L103.2,486.1L104.2,487.5L105.2,486.3L106.2,486.1L107.2,486.0L108.2,486.2L109.2,486.6L110.2,486.4L111.2,487.4L112.2,487.7L113.2,486.4L114.2,486.5L115.2,487.7L116.2,487.6L117.2,487.9L118.2,486.7L119.2,487.9L120.2,487.0L121.2,487.0L122.2,487.3L123.2,488.3L124.2,488.3L125.2,488.4L126.2,487.4L127.2,487.7L128.2,487.3L129.2,487.4L130.2,488.7L131.2,487.4L132.2,488.9L133.2,489.0L134.2,487.9L135.2,488.6L136.2,489.1L137.2,488.7L138.2,488.7L139.2,488.6L140.2,487.5L141.2,488.4L142.2,488.4L143.2,487.6L144.2,487.3L145.2,487.5L146.2,487.9L147.2,487.3L148.2,487.9L149.2,487.2L150.2,487.9L151.2,488.1L152.2,486.6L153.2,487.5L154.2,487.7L155.2,486.4L156.2,486.9L157.2,487.6L158.2,487.4L159.2,486.6L160.2,486.5L161.2,486.2L162.2,486.9L163.2,487.4L164.2,487.5L165.2,487.4L166.2,487.0L167.2,486.7L168.2,486.8L169.2,486.8L170.2,487.1L171.2,486.8L172.2,487.4L173.2,488.2L174.2,487.4L175.2,488.5L176.2,488.2L177.2,488.6L178.2,488.8L179.2,487.6L180.2,487.9L181.2,487.6L182.2,487.5L183.2,488.7L184.2,487.3L185.2,488.5L186.2,489.1L187.2,487.9L188.2,488.7L189.2,487.5L190.2,488.7L191.2,488.7L192.2,488.4L193.2,488.8L194.2,488.4L195.2,488.5L196.2,487.5L197.2,488.7L198.2,487.8L199.2,488.6L200.2,488.1L201.2,487.7L202.2,488.2L203.2,489.1L204.2,489.2L205.2,488.7L206.2,490.1L207.2,491.2L208.2,490.5L209.2,491.2L210.2,493.1L211.2,493.6L212.2,494.5L213.2,494.4L214.2,495.6L215.2,495.4L216.2,496.0L217.2,497.3L218.2,498.3L219.2,498.5L220.2,498.5L221.2,499.1L222.2,500.6L223.2,500.7L224.2,501.3L225.2,501.9L226.2,502.9L227.2,503.2L228.2,503.5L229.2,504.0L230.2,504.5L231.2,505.4L232.2,505.6L233.2,506.1L234.2,506.4L235.2,506.9L236.2,507.7L237.2,508.1L238.2,508.3L239.2,508.6L240.2,509.5L241.2,509.5L242.2,510.0L243.2,510.4L244.2,511.1L245.2,511.8L246.2,512.1L247.2,512.8L248.2,513.0L249.2,513.9L250.2,514.1L251.2,514.8L252.2,515.4L253.2,516.0L254.2,517.0L255.2,517.2L256.2,518.1L257.2,518.6L258.2,519.6L259.2,519.8L260.2,520.6L261.2,521.5L262.2,521.8L263.2,522.8L264.2,523.5L265.2,523.7L266.2,524.4L267.2,524.7L268.2,525.7L269.2,525.9L270.2,526.6L271.2,526.8L272.2,527.6L273.2,527.8L274.2,528.5L275.2,528.9L276.2,529.1L277.2,529.2L278.2,529.7L279.2,530.3L280.2,530.8L281.2,531.2L282.2,531.6L283.2,532.0L284.2,532.3L285.2,532.9L286.2,533.2L287.2,534.0L288.2,534.4L289.2,535.1L290.2,535.3L291.2,535.8L292.2,536.7L293.2,536.9L294.2,537.1L295.2,537.8L296.2,537.4L297.2,538.0L298.2,538.1L299.2,537.8L300.2,538.3L301.2,538.3L302.2,538.0L303.2,538.5L304.2,538.6L305.2,538.1L306.2,538.2L307.2,538.2L308.2,538.6L309.2,538.1L310.2,537.9L311.2,537.8L312.2,538.1L313.2,537.5L314.2,537.8L315.2,537.1L316.2,537.1L317.2,536.7L318.2,536.5L319.2,536.3L320.2,536.3L321.2,535.8L322.2,535.6L323.2,535.7L324.2,535.4L325.2,534.8L326.2,534.6L327.2,534.5L328.2,534.0L329.2,533.5L330.2,533.2L331.2,532.9L332.2,532.8L333.2,532.3L334.2,531.7L335.2,531.3L336.2,531.0L337.2,531.1L338.2,530.1L339.2,529.8L340.2,529.5L341.2,529.4L342.2,528.7L343.2,528.5L344.2,528.2L345.2,528.0L346.2,527.7L347.2,527.7L348.2,527.2L349.2,526.9L350.2,527.1L351.2,526.5L352.2,526.3L353.2,526.1L354.2,526.5L355.2,526.2L356.2,526.0L357.2,525.5L358.2,525.8L359.2,525.2L360.2,525.5L361.2,525.4L362.2,525.0L363.2,524.7L364.2,525.0L365.2,524.4L366.2,524.3L367.2,524.5L368.2,524.3L369.2,523.9L370.2,523.8L371.2,523.7L372.2,523.9L373.2,523.8L374.2,523.2L375.2,523.4L376.2,523.0L377.2,522.8L378.2,522.7L379.2,522.4L380.2,522.7L381.2,522.5L382.2,522.0L383.2,521.8L384.2,522.1L385.2,522.0L386.2,521.4L387.2,521.7L388.2,521.4L389.2,521.0L390.2,521.2L391.2,521.0L392.2,520.6L393.2,520.6L394.2,520.2L395.2,520.3L396.2,519.9L397.2,519.8L398.2,519.9L399.2,519.8L400.2,519.6L401.2,519.5L402.2,519.3L403.2,519.1L404.2,518.9L405.2,518.4L406.2,518.2L407.2,518.1L408.2,518.3L409.2,518.2L410.2,517.6L411.2,517.8L412.2,517.6L413.2,517.0L414.2,517.1L415.2,516.7L416.2,516.9L417.2,516.4L418.2,516.3L419.2,516.3L420.2,515.9L421.2,516.1L422.2,515.8L423.2,515.3L424.2,515.4L425.2,515.1L426.2,515.3L427.2,515.1L428.2,514.4L429.2,514.6L430.2,514.4L431.2,514.1L432.2,513.7L433.2,513.9L434.2,513.6L435.2,513.4L436.2,513.4L437.2,512.7L438.2,512.6L439.2,512.3L440.2,512.2L441.2,512.4L442.2,511.9L443.2,512.1L444.2,511.9L445.2,511.7L446.2,511.8L447.2,511.3L448.2,511.2L449.2,511.1L450.2,511.0L451.2,511.0L452.2,510.9L453.2,510.9L454.2,510.8L455.2,511.1L456.2,510.8L457.2,511.2L458.2,511.0L459.2,511.1L460.2,511.0L461.2,511.1L462.2,511.0L463.2,510.6L464.2,510.5L465.2,510.5L466.2,510.9L467.2,510.4L468.2,510.8L469.2,510.7L470.2,510.7L471.2,510.2L472.2,510.6L473.2,510.1L474.2,510.5L475.2,510.0L476.2,510.5L477.2,509.9L478.2,510.0L479.2,510.5L480.2,511.1L481.2,512.1L482.2,513.4L483.2,514.7L484.2,516.3L485.2,517.7L486.2,518.6L487.2,519.5L488.2,519.9L489.2,520.5L490.2,521.1L491.2,521.7L492.2,522.2L493.2,523.2L494.2,524.0L495.2,526.2L496.2,528.9L497.2,531.6L498.2,535.3L499.2,538.8L500.2,543.4L501.2,549.4L502.2,553.6L503.2,554.7L504.2,553.1L505.2,549.7L506.2,546.0L507.2,541.6L508.2,538.0L509.2,534.1L510.2,530.9L511.2,527.1L512.2,524.4L513.2,521.9L514.2,520.8L515.2,519.0L516.2,517.9L517.2,516.3L518.2,515.3L519.2,514.9L520.2,514.4L521.2,514.2L522.2,514.1L523.2,514.7L524.2,515.4L525.2,516.1L526.2,517.0L527.2,518.7L528.2,523.0L529.2,528.2L530.2,531.7L531.2,533.0L532.2,529.9L533.2,524.7L534.2,518.7L535.2,514.6L536.2,512.8L537.2,511.2L538.2,510.4L539.2,509.5L540.2,508.8L541.2,508.2L542.2,507.3L543.2,507.1L544.2,506.4L545.2,506.1L546.2,505.5L547.2,505.2L548.2,505.3L549.2,504.7L550.2,504.5L551.2,504.4L552.2,503.7L553.2,504.0L554.2,503.8L555.2,503.2L556.2,503.5L557.2,503.2L558.2,503.1L559.2,502.8L560.2,502.6L561.2,502.5L562.2,502.4L563.2,502.6L564.2,502.4L565.2,502.5L566.2,501.9L567.2,502.2L568.2,502.1L569.2,501.8L570.2,501.9L571.2,501.5L572.2,501.7L573.2,501.4L574.2,501.5L575.2,501.5L576.2,501.1L577.2,501.5L578.2,500.9L579.2,501.4L580.2,501.3L581.2,501.2L582.2,500.9L583.2,501.1L584.2,501.0L585.2,501.1L586.2,500.9L587.2,500.6L588.2,500.8L589.2,500.4L590.2,500.7L591.2,500.4L592.2,500.5L593.2,500.7L594.2,500.3L595.2,500.3L596.2,500.2L597.2,500.3L598.2,500.3L599.2,500.1L600.2,500.2L601.2,500.4L602.2,500.2L603.2,500.0L604.2,500.1L605.2,499.9L606.2,499.9L607.2,500.0L608.2,499.9L609.2,500.1L610.2,499.8L611.2,500.2L612.2,500.2L613.2,500.1L614.2,500.1L615.2,500.0L616.2,500.1L617.2,499.6L618.2,499.5L619.2,499.6L620.2,500.1L621.2,499.7L622.2,499.8L623.2,499.5L624.2,499.7L625.2,499.8L626.2,499.6L627.2,499.3L628.2,499.3L629.2,499.3L630.2,499.2L631.2,499.1L632.2,499.5L633.2,499.0L634.2,499.1L635.2,499.3L636.2,499.4L637.2,498.9L638.2,498.8L639.2,499.2L640.2,499.1L641.2,499.1L642.2,499.0L643.2,499.0L644.2,498.5L645.2,498.5L646.2,498.9L647.2,498.5L648.2,498.7L649.2,498.7L650.2,498.5L651.2,498.2L652.2,498.4L653.2,498.3L654.2,498.2L655.2,498.2L656.2,498.2L657.2,497.9L658.2,498.0L659.2,497.9L660.2,498.0L661.2,497.7L662.2,497.8L663.2,497.8L664.2,497.6L665.2,497.6L666.2,497.8L667.2,497.8L668.2,497.9L669.2,497.7L670.2,497.6L671.2,497.7L672.2,497.7L673.2,497.4L674.2,497.3L675.2,497.5L676.2,497.1L677.2,497.3L678.2,496.9L679.2,496.9L680.2,496.8L681.2,496.9L682.2,496.8L683.2,496.7L684.2,496.5L685.2,496.5L686.2,496.9L687.2,496.8L688.2,496.7L689.2,496.6L690.2,496.5L691.2,496.4L692.2,496.5L693.2,496.2L694.2,496.5L695.2,496.1L696.2,496.1L697.2,496.3L698.2,496.2L699.2,496.2L700.2,496.2L701.2,495.9L702.2,495.9L703.2,495.7L704.2,495.7L705.2,496.1L706.2,495.6L707.2,496.0L708.2,495.9L709.2,495.9L710.2,495.4L711.2,495.8L712.2,495.9L713.2,495.5L714.2,495.4L715.2,495.6L716.2,496.8L717.2,498.6L718.2,500.9L719.2,503.6L720.2,506.5L721.2,510.7L722.2,515.6L723.2,519.7L724.2,524.5L725.2,529.2L726.2,532.1L727.2,530.8L728.2,526.9L729.2,522.1L730.2,518.2L731.2,517.1L732.2,517.6L733.2,518.8L734.2,519.9L735.2,521.2L736.2,522.2L737.2,522.2L738.2,521.8L739.2,520.1L740.2,517.6L741.2,515.6L742.2,513.3L743.2,511.2L744.2,509.2L745.2,507.7L746.2,505.9L747.2,504.3L748.2,502.3L749.2,500.8L750.2,499.7L751.2,498.7L752.2,498.6L753.2,497.9L754.2,497.3L755.2,496.9L756.2,496.7L757.2,495.7L758.2,495.9L759.2,495.2L760.2,495.1L761.2,494.9L762.2,494.7L763.2,494.7L764.2,494.7L765.2,494.5L766.2,494.3L767.2,494.2L768.2,494.2L769.2,494.3L770.2,493.9L771.2,493.9L772.2,494.3L773.2,493.8L774.2,493.8L775.2,493.8L776.2,494.0L777.2,493.9L778.2,493.9L779.2,493.7L780.2,493.6L781.2,493.5L782.2,493.8L783.2,493.8L784.2,493.9L785.2,493.5L786.2,493.5L787.2,493.4L788.2,493.7L789.2,493.8L790.2,493.4L791.2,493.4L792.2,493.8L793.2,493.7L794.2,493.4L795.2,493.4L796.2,493.5L797.2,493.8L798.2,493.8L799.2,493.8L800.2,493.4L801.2,493.4L802.2,493.7L803.2,493.8L804.2,493.4L805.2,493.6L806.2,493.8L807.2,493.8L808.2,493.8L809.2,493.7L810.2,493.5L811.2,493.7L812.2,493.7L813.2,493.5L814.2,493.8L815.2,493.5L816.2,493.9L817.2,493.4L818.2,493.8L819.2,493.8L820.2,493.8L821.2,493.7L822.2,493.8L823.2,493.4L824.2,493.5L825.2,493.9L826.2,493.6L827.2,493.5L828.2,493.4L829.2,493.4L830.2,493.3L831.2,493.8L832.2,493.3L833.2,493.8L834.2,493.4L835.2,493.4L836.2,493.5L837.2,493.3L838.2,493.3L839.2,493.9L840.2,493.8L841.2,493.7L842.2,493.7L843.2,493.4L844.2,493.4L845.2,493.4L846.2,493.6L847.2,493.8L848.2,493.5L849.2,493.5L850.2,493.3L851.2,493.4L852.2,493.5L853.2,493.4L854.2,493.5L855.2,493.7L856.2,493.4L857.2,493.9L858.2,493.7L859.2,493.8L860.2,493.6L861.2,493.7L862.2,493.8L863.2,493.5L864.2,493.7L865.2,493.8L866.2,493.4L867.2,493.5L868.2,493.5L869.2,493.4L870.2,493.5L871.2,493.4L872.2,493.7L873.2,493.8L874.2,493.2L875.2,493.6L876.2,493.5L877.2,493.1L878.2,493.4L879.2,493.0L880.2,492.7L881.2,492.6L882.2,492.9L883.2,492.9L884.2,492.6L885.2,492.6L886.2,492.1L887.2,491.9L888.2,492.1L889.2,491.7L890.2,491.8L891.2,491.7L892.2,491.4L893.2,491.5L894.2,491.3L895.2,491.3L896.2,491.2L897.2,491.1L898.2,490.7L899.2,490.8L900.2,490.4L901.2,490.8L902.2,490.5L903.2,490.1L904.2,490.4L905.2,490.2L906.2,490.2L907.2,490.1L908.2,489.8L909.2,489.5L910.2,489.4L911.2,489.3L912.2,489.2L913.2,489.5L914.2,489.0L915.2,489.1L916.2,489.2L917.2,488.8L918.2,488.9L919.2,488.9L920.2,488.7L921.2,488.3L922.2,488.6L923.2,488.1L924.2,488.0L925.2,488.3L926.2,488.2L927.2,488.1L928.2,487.5L929.2,487.4L930.2,487.2L931.2,487.2L932.2,487.0L933.2,487.1L934.2,487.1L935.2,487.0L936.2,486.9L937.2,486.5L938.2,486.3L939.2,486.1L940.2,486.3L941.2,486.2L942.2,485.9L943.2,486.0L944.2,485.6L945.2,485.6L946.2,485.9L947.2,485.5L948.2,485.9L949.2,485.9L950.2,485.5L951.2,485.6L952.2,485.8L953.2,485.6L954.2,485.6L955.2,485.9L956.2,485.7L957.2,486.1L958.2,485.9L959.2,486.3L960.2,486.4L961.2,486.1L962.2,486.7L963.2,487.0L964.2,487.5L965.2,488.2L966.2,488.7L967.2,489.6L968.2,490.9L969.2,491.9L970.2,494.2L971.2,495.8L972.2,497.9L973.2,499.0L974.2,499.1L975.2,499.0L976.2,498.7L977.2,499.2L978.2,498.7L979.2,498.7L980.2,499.1L981.2,499.7L982.2,500.6L983.2,502.1L984.2,504.2L985.2,505.9L986.2,506.8L987.2,506.6L988.2,506.9L989.2,506.8L990.2,506.9L991.2,506.9L992.2,506.8L993.2,506.6L994.2,506.6L995.2,506.8L996.2,506.5L997.2,507.1L998.2,507.3L999.2,508.2L1000.2,509.2L1001.2,510.5L1002.2,511.8L1003.2,513.3L1004.2,514.8L1005.2,516.3L1006.2,518.1L1007.2,519.3L1008.2,520.2L1009.2,521.3L1010.2,522.8L1011.2,523.9L1012.2,524.8L1013.2,526.0L1014.2,527.5L1015.2,528.9L1016.2,530.6L1017.2,532.8L1018.2,534.7L1019.2,536.6L1020.2,538.4L1021.2,540.3L1022.2,542.0L1023.2,543.2L1024.2,544.3L1025.2,545.6L1026.2,547.2L1027.2,548.2L1028.2,549.4L1029.2,550.9L1030.2,551.3L1031.2,552.0L1032.2,552.7L1033.2,552.6L1034.2,552.5L1035.2,551.9L1036.2,551.6L1037.2,551.2L1038.2,550.9L1039.2,550.5L1040.2,549.9L1041.2,549.1L1042.2,548.7L1043.2,547.6L1044.2,546.4L1045.2,545.3L1046.2,544.0L1047.2,543.2L1048.2,542.3L1049.2,541.9L1050.2,540.9L1051.2,540.2L1052.2,539.3L1053.2,538.8L1054.2,537.6L1055.2,535.6L1056.2,533.0L1057.2,530.7L1058.2,528.9L1059.2,527.4L1060.2,525.8L1061.2,524.4L1062.2,523.2L1063.2,522.2L1064.2,521.7L1065.2,521.3L1066.2,521.2L1067.2,521.1L1068.2,520.6L1069.2,520.9L1070.2,520.2L1071.2,519.4L1072.2,518.3L1073.2,517.3L1074.2,517.1L1075.2,517.7L1076.2,517.9L1077.2,518.8L1078.2,520.1L1079.2,521.0L1080.2,523.2L1081.2,525.4L1082.2,527.7L1083.2,529.0L1084.2,529.1L1085.2,529.6L1086.2,529.5L1087.2,529.7L1088.2,529.9L1089.2,530.0L1090.2,529.9L1091.2,529.9L1092.2,530.4L1093.2,530.4L1094.2,531.0L1095.2,532.0L1096.2,532.8L1097.2,534.0L1098.2,535.2L1099.2,536.4L1100.2,537.7L1101.2,538.7L1102.2,540.0L1103.2,541.5L1104.2,542.9L1105.2,544.3L1106.2,545.7L1107.2,547.2L1108.2,548.3L1109.2,549.8L1110.2,551.5L1111.2,553.1L1112.2,554.6L1113.2,555.9L1114.2,556.3L1115.2,555.7L1116.2,553.5L1117.2,549.3L1118.2,545.2L1119.2,541.7L1120.2,540.2L1121.2,539.6L1122.2,538.9L1123.2,537.8L1124.2,537.6L1125.2,536.7L1126.2,536.2L1127.2,535.2L1128.2,534.7L1129.2,533.5L1130.2,532.9L1131.2,532.0L1132.2,531.6L1133.2,531.0L1134.2,530.4L1135.2,530.0L1136.2,530.1L1137.2,530.6L1138.2,531.5L1139.2,532.1L1140.2,532.8L1141.2,533.2L1142.2,533.9L1143.2,534.3L1144.2,534.4L1145.2,534.4L1146.2,533.9L1147.2,534.1L1148.2,533.5L1149.2,533.5L1150.2,533.5L1151.2,533.5L1152.2,533.4L1153.2,533.2L1154.2,533.2L1155.2,533.1L1156.2,533.4L1157.2,533.7L1158.2,534.7L1159.2,534.8L1160.2,535.3L1161.2,536.2L1162.2,536.5L1163.2,536.7L1164.2,537.1L1165.2,536.6L1166.2,536.5L1167.2,536.7L1168.2,536.2L1169.2,536.5L1170.2,536.2L1171.2,535.5L1172.2,535.6L1173.2,535.0L1174.2,534.8L1175.2,534.3L1176.2,534.3L1177.2,533.7L1178.2,533.8L1179.2,533.2L1180.2,533.0L1181.2,533.3L1182.2,532.7L1183.2,532.6L1184.2,532.9L1185.2,533.0L1186.2,532.9L1187.2,532.7L1188.2,532.2L1189.2,532.2L1190.2,532.6L1191.2,532.6L1192.2,532.6L1193.2,532.2L1194.2,532.4L1195.2,532.2L1196.2,532.3L1197.2,533.0L1198.2,533.3L1199.2,533.3L1200.2,534.1L1201.2,534.6L1202.2,534.9L1203.2,534.7L1204.2,534.6L1205.2,534.5L1206.2,534.1L1207.2,533.7L1208.2,533.3L1209.2,532.8L1210.2,532.3L1211.2,532.2L1212.2,532.2L1213.2,533.1L1214.2,534.0L1215.2,535.1L1216.2,535.9L1217.2,537.2L1218.2,537.6L1219.2,538.1L1220.2,538.0L1221.2,537.5L1222.2,536.6L1223.2,536.1L1224.2,534.7L1225.2,533.8L1226.2,532.4L1227.2,531.9L1228.2,531.2L1229.2,530.6L1230.2,529.5L1231.2,529.2L1232.2,528.5L1233.2,527.4L1234.2,526.8L1235.2,526.2L1236.2,526.0L1237.2,525.3L1238.2,524.4L1239.2,524.2L1240.2,524.0L1241.2,523.3L1242.2,523.4L1243.2,523.2L1244.2,523.2L1245.2,522.7L1246.2,523.1L1247.2,522.7L1248.2,522.9L1249.2,522.5L1250.2,522.3L1251.2,522.2L1252.2,522.3L1253.2,521.9L1254.2,521.1L1255.2,519.9L1256.2,519.1L1257.2,518.7L1258.2,517.4L1259.2,516.9L1260.2,516.1L1261.2,515.4L1262.2,514.7L1263.2,513.6L1264.2,512.8L1265.2,512.0L1266.2,511.8L1267.2,510.6L1268.2,510.4L1269.2,509.3L1270.2,509.0L1271.2,508.5L1272.2,507.8L1273.2,507.3L1274.2,506.7L1275.2,505.9L1276.2,505.8L1277.2,505.2L1278.2,504.8L1279.2,504.3L1280.2,503.4L1281.2,503.2L1282.2,502.6L1283.2,501.8L1284.2,501.4L1285.2,500.9L1286.2,499.7L1287.2,499.4L1288.2,498.4L1289.2,497.7L1290.2,497.0L1291.2,495.9L1292.2,495.0L1293.2,494.3L1294.2,493.7L1295.2,493.2L1296.2,492.4L1297.2,492.1L1298.2,491.2L1299.2,490.7L1300.2,490.7L1301.2,490.5L1302.2,490.2L1303.2,490.0L1304.2,490.2L1305.2,490.5L1306.2,490.3L1307.2,490.7L1308.2,490.5L1309.2,490.9L1310.2,490.9L1311.2,491.3L1312.2,491.9L1313.2,492.6L1314.2,493.5L1315.2,494.4L1316.2,494.9L1317.2,495.3L1318.2,495.1L1319.2,495.4L1320.2,495.2L1321.2,494.3L1322.2,493.7L1323.2,492.8L1324.2,492.0L1325.2,490.8L1326.2,490.2L1327.2,489.2L1328.2,488.9L1329.2,488.1L1330.2,488.1L1331.2,488.1L1332.2,488.7L1333.2,489.2L1334.2,489.6L1335.2,489.9L1336.2,490.5L1337.2,491.3L1338.2,491.6L1339.2,492.0L1340.2,492.8L1341.2,492.9L1342.2,493.3L1343.2,493.3L1344.2,493.4L1345.2,493.5L1346.2,494.1L1347.2,494.2L1348.2,494.1L1349.2,494.3L1350.2,494.8L1351.2,494.8L1352.2,494.6L1353.2,494.7L1354.2,494.9L1355.2,494.8L1356.2,494.0L1357.2,493.9L1358.2,493.4L1359.2,493.2L1360.2,492.6L1361.2,492.9L1362.2,494.1L1363.2,495.2L1364.2,497.3L1365.2,499.1L1366.2,501.2L1367.2,503.1L1368.2,504.5L1369.2,504.9L1370.2,505.2L1371.2,504.3L1372.2,503.3L1373.2,502.4L1374.2,501.0L1375.2,499.8L1376.2,498.1L1377.2,497.6L1378.2,497.3L1379.2,497.1L1380.2,496.8L1381.2,496.2L1382.2,495.9L1383.2,495.7L1384.2,495.9L1385.2,495.3L1386.2,495.3L1387.2,495.6L1388.2,495.7L1389.2,495.4L1390.2,496.0L1391.2,496.0L1392.2,496.4L1393.2,497.2L1394.2,497.5L1395.2,498.2L1396.2,499.0L1397.2,500.1L1398.2,501.2L1399.2,502.0L1400.2,502.9L1401.2,503.0L1402.2,502.4L1403.2,501.7L1404.2,499.9L1405.2,499.1L1406.2,498.9L1407.2,498.0L1408.2,497.6L1409.2,497.0L1410.2,497.1L1411.2,496.4L1412.2,496.1L1413.2,496.0L1414.2,496.2L1415.2,496.0L1416.2,496.0L1417.2,496.2L1418.2,496.4L1419.2,496.6L1420.2,496.8L1421.2,497.3L1422.2,497.2L1423.2,497.3L1424.2,497.5L1425.2,497.7L1426.2,498.2L1427.2,497.9L1428.2,497.9L1429.2,497.7L1430.2,497.7L1431.2,497.3L1432.2,497.1L1433.2,496.8L1434.2,496.6L1435.2,496.3L1436.2,496.0L1437.2,495.7L1438.2,495.7L1439.2,495.4L1440.2,495.6L1441.2,495.5L1442.2,495.2L1443.2,495.4L1444.2,495.1L1445.2,495.0L1446.2,495.3L1447.2,495.3L1448.2,494.9L1449.2,494.9L1450.2,494.8L1451.2,495.1L1452.2,495.1L1453.2,494.6L1454.2,494.9L1455.2,494.7L1456.2,494.2L1457.2,494.1L1458.2,493.8L1459.2,493.6L1460.2,493.5L1461.2,493.0L1462.2,493.1L1463.2,492.4L1464.2,492.1L1465.2,492.0L1466.0,491.2" fill="none" stroke="#ff0000" stroke-width="7.7" stroke-linejoin="round" stroke-linecap="round"/>
<path d="M75.5,565.9L76.5,567.2L77.5,567.2L78.5,568.7L79.5,569.7L80.5,571.2L81.5,572.7L82.5,575.2L83.5,577.7L84.5,576.0L85.5,582.9L86.5,583.2L87.5,585.9L88.5,584.8L89.5,583.0L90.5,586.0L91.5,580.1L92.5,585.7L93.5,582.5L94.5,593.3L95.5,593.2L96.5,584.9L97.5,591.7L98.5,594.4L99.5,595.3L100.5,594.4L101.5,592.4L102.5,600.1L103.5,591.0L104.5,587.1L105.5,601.9L106.5,603.3L107.5,589.2L108.5,595.2L109.5,601.2L110.5,585.0L111.5,579.6L112.5,592.8L113.5,621.2L114.5,627.0L115.5,620.5L116.5,595.4L117.5,598.0L118.5,595.7L119.5,602.1L120.5,624.4L121.5,596.1L122.5,604.9L123.5,607.2L124.5,610.7L125.5,603.5L126.5,625.8L127.5,601.6L128.5,621.8L129.5,585.0L130.5,600.3L131.5,633.0L132.5,630.1L133.5,664.7L134.5,660.4L135.5,621.0L136.5,627.5L137.5,633.3L138.5,614.5L139.5,641.8L140.5,613.0L141.5,645.2L142.5,633.8L143.5,610.2L144.5,611.7L145.5,631.0L146.5,628.4L147.5,646.8L148.5,651.2L149.5,640.5L150.5,648.2L151.5,618.9L152.5,627.7L153.5,641.4L154.5,626.8L155.5,623.8L156.5,630.7L157.5,644.1L158.5,643.7L159.5,647.0L160.5,622.4L161.5,624.0L162.5,651.8L163.5,652.5L164.5,632.8L165.5,618.5L166.5,642.2L167.5,652.7L168.5,628.0L169.5,652.1L170.5,609.0L171.5,609.8L172.5,613.6L173.5,655.0L174.5,634.7L175.5,651.3L176.5,619.2L177.5,661.0L178.5,666.4L179.5,648.7L180.5,641.8L181.5,653.5L182.5,631.5L183.5,621.6L184.5,649.6L185.5,616.1L186.5,618.8L187.5,626.8L188.5,616.6L189.5,641.4L190.5,666.0L191.5,662.1L192.5,652.8L193.5,630.5L194.5,663.6L195.5,622.0L196.5,663.3L197.5,618.9L198.5,670.0L199.5,652.7L200.5,634.5L201.5,622.9L202.5,616.0L203.5,625.8L204.5,672.4L205.5,680.0L206.5,663.6L207.5,633.7L208.5,682.4L209.5,636.3L210.5,635.9L211.5,655.6L212.5,629.2L213.5,658.4L214.5,690.9L215.5,696.4L216.5,668.0L217.5,641.4L218.5,653.2L219.5,694.7L220.5,648.7L221.5,689.7L222.5,699.4L223.5,698.1L224.5,667.9L225.5,693.9L226.5,698.0L227.5,688.7L228.5,662.7L229.5,671.5L230.5,678.4L231.5,697.1L232.5,674.7L233.5,673.4L234.5,674.6L235.5,688.8L236.5,704.4L237.5,708.9L238.5,708.8L239.5,706.9L240.5,707.0L241.5,700.8L242.5,710.0L243.5,698.2L244.5,691.5L245.5,683.0L246.5,690.6L247.5,708.5L248.5,718.4L249.5,700.9L250.5,705.6L251.5,715.7L252.5,703.8L253.5,714.8L254.5,707.6L255.5,708.5L256.5,718.4L257.5,721.2L258.5,713.0L259.5,722.0L260.5,716.6L261.5,715.3L262.5,721.3L263.5,728.0L264.5,723.7L265.5,730.3L266.5,731.8L267.5,728.2L268.5,733.7L269.5,729.5L270.5,738.9L271.5,738.2L272.5,730.1L273.5,741.3L274.5,742.1L275.5,743.1L276.5,739.7L277.5,738.1L278.5,745.1L279.5,742.6L280.5,743.8L281.5,743.7L282.5,749.9L283.5,747.3L284.5,746.7L285.5,750.1L286.5,753.0L287.5,753.1L288.5,754.6L289.5,755.7L290.5,756.5L291.5,757.0L292.5,757.5L293.5,757.5L294.5,758.7L295.5,758.9L296.5,758.7L297.5,761.3L298.5,759.8L299.5,762.6L300.5,761.2L301.5,762.4L302.5,763.0L303.5,764.3L304.5,764.4L305.5,763.5L306.5,764.6L307.5,764.6L308.5,763.8L309.5,764.3L310.5,764.6L311.5,764.2L312.5,764.6L313.5,763.2L314.5,763.2L315.5,764.6L316.5,763.6L317.5,763.8L318.5,763.6L319.5,763.4L320.5,763.6L321.5,764.4L322.5,764.4L323.5,763.1L324.5,763.8L325.5,763.7L326.5,763.1L327.5,763.1L328.5,763.1L329.5,762.9L330.5,764.2L331.5,764.2L332.5,763.9L333.5,764.3L334.5,764.3L335.5,762.9L336.5,763.9L337.5,762.9L338.5,763.8L339.5,763.3L340.5,763.8L341.5,764.3L342.5,764.2L343.5,763.0L344.5,762.6L345.5,763.9L346.5,763.2L347.5,763.8L348.5,763.3L349.5,763.0L350.5,763.0L351.5,763.0L352.5,764.1L353.5,763.0L354.5,764.4L355.5,764.2L356.5,764.3L357.5,763.3L358.5,763.3L359.5,762.7L360.5,763.9L361.5,764.2L362.5,762.8L363.5,763.6L364.5,764.1L365.5,764.1L366.5,764.1L367.5,763.6L368.5,763.7L369.5,763.9L370.5,763.9L371.5,765.1L372.5,764.5L373.5,765.4L374.5,765.7L375.5,764.3L376.5,764.8L377.5,765.6L378.5,765.5L379.5,765.9L380.5,766.3L381.5,765.2L382.5,765.9L383.5,765.2L384.5,765.8L385.5,765.8L386.5,765.3L387.5,765.7L388.5,766.8L389.5,766.3L390.5,766.1L391.5,766.1L392.5,766.8L393.5,765.7L394.5,766.4L395.5,765.5L396.5,766.6L397.5,765.5L398.5,765.1L399.5,765.0L400.5,765.5L401.5,765.5L402.5,765.1L403.5,765.1L404.5,763.8L405.5,763.6L406.5,764.2L407.5,763.4L408.5,763.5L409.5,764.3L410.5,764.6L411.5,764.4L412.5,763.3L413.5,764.6L414.5,764.5L415.5,764.3L416.5,764.3L417.5,763.6L418.5,763.5L419.5,764.5L420.5,763.3L421.5,764.7L422.5,764.2L423.5,764.4L424.5,764.5L425.5,764.7L426.5,763.2L427.5,764.1L428.5,763.2L429.5,763.4L430.5,764.8L431.5,763.3L432.5,763.3L433.5,764.6L434.5,764.3L435.5,763.3L436.5,764.7L437.5,764.1L438.5,764.7L439.5,763.4L440.5,764.6L441.5,763.8L442.5,764.0L443.5,764.4L444.5,764.8L445.5,765.0L446.5,765.2L447.5,765.4L448.5,765.8L449.5,766.4L450.5,766.6L451.5,766.7L452.5,766.9L453.5,767.6L454.5,767.5L455.5,767.6L456.5,768.8L457.5,768.0L458.5,769.2L459.5,768.3L460.5,768.2L461.5,768.9L462.5,768.8L463.5,768.8L464.5,769.0L465.5,769.4L466.5,770.8L467.5,770.0L468.5,771.1L469.5,770.6L470.5,770.8L471.5,772.2L472.5,772.6L473.5,771.9L474.5,773.5L475.5,773.2L476.5,773.9L477.5,775.7L478.5,776.5L479.5,777.6L480.5,779.0L481.5,779.0L482.5,781.9L483.5,783.4L484.5,786.8L485.5,789.5L486.5,791.4L487.5,793.1L488.5,795.1L489.5,796.1L490.5,795.5L491.5,796.1L492.5,797.3L493.5,798.4L494.5,799.3L495.5,802.3L496.5,805.3L497.5,808.4L498.5,812.0L499.5,816.2L500.5,820.7L501.5,827.8L502.5,834.5L503.5,840.4L504.5,840.0L505.5,838.9L506.5,833.9L507.5,829.3L508.5,824.7L509.5,820.1L510.5,814.0L511.5,808.4L512.5,803.9L513.5,797.9L514.5,795.1L515.5,794.5L516.5,795.0L517.5,794.2L518.5,794.2L519.5,793.4L520.5,794.6L521.5,794.5L522.5,795.7L523.5,796.1L524.5,797.6L525.5,798.1L526.5,800.5L527.5,803.1L528.5,807.2L529.5,812.8L530.5,816.1L531.5,816.5L532.5,816.3L533.5,813.4L534.5,807.7L535.5,802.9L536.5,799.6L537.5,795.6L538.5,792.9L539.5,790.3L540.5,787.2L541.5,785.5L542.5,783.7L543.5,784.5L544.5,784.0L545.5,782.9L546.5,783.3L547.5,783.3L548.5,783.1L549.5,781.6L550.5,782.4L551.5,782.5L552.5,781.6L553.5,781.7L554.5,781.9L555.5,782.2L556.5,782.4L557.5,782.7L558.5,782.7L559.5,782.7L560.5,782.7L561.5,781.7L562.5,782.4L563.5,781.6L564.5,781.6L565.5,782.0L566.5,782.7L567.5,782.8L568.5,782.9L569.5,783.4L570.5,783.3L571.5,782.7L572.5,782.7L573.5,783.3L574.5,783.2L575.5,783.2L576.5,783.9L577.5,784.0L578.5,783.4L579.5,783.4L580.5,784.5L581.5,784.7L582.5,784.6L583.5,785.1L584.5,785.1L585.5,785.1L586.5,784.7L587.5,785.2L588.5,785.9L589.5,786.4L590.5,786.0L591.5,785.3L592.5,785.9L593.5,787.0L594.5,787.1L595.5,786.6L596.5,787.3L597.5,787.9L598.5,787.1L599.5,788.2L600.5,787.7L601.5,787.6L602.5,789.1L603.5,788.2L604.5,788.3L605.5,789.7L606.5,788.8L607.5,788.8L608.5,788.8L609.5,790.3L610.5,790.5L611.5,789.8L612.5,790.8L613.5,791.0L614.5,791.6L615.5,790.4L616.5,791.0L617.5,790.9L618.5,791.3L619.5,792.1L620.5,792.4L621.5,791.9L622.5,791.9L623.5,793.5L624.5,792.4L625.5,793.8L626.5,793.9L627.5,793.9L628.5,793.1L629.5,793.3L630.5,793.2L631.5,794.3L632.5,794.6L633.5,794.6L634.5,794.6L635.5,794.3L636.5,794.8L637.5,794.3L638.5,795.1L639.5,794.4L640.5,795.5L641.5,794.8L642.5,796.0L643.5,795.1L644.5,796.1L645.5,796.0L646.5,795.3L647.5,796.6L648.5,796.4L649.5,796.6L650.5,795.9L651.5,795.5L652.5,795.5L653.5,796.5L654.5,795.7L655.5,797.1L656.5,795.9L657.5,797.1L658.5,797.1L659.5,796.7L660.5,797.4L661.5,795.9L662.5,797.1L663.5,797.2L664.5,797.1L665.5,797.3L666.5,796.7L667.5,797.0L668.5,797.8L669.5,798.0L670.5,796.6L671.5,797.0L672.5,797.3L673.5,797.3L674.5,797.1L675.5,798.0L676.5,797.3L677.5,798.6L678.5,798.6L679.5,797.7L680.5,798.6L681.5,798.5L682.5,798.2L683.5,798.8L684.5,798.1L685.5,798.2L686.5,799.3L687.5,798.6L688.5,798.4L689.5,799.3L690.5,798.5L691.5,798.7L692.5,799.0L693.5,800.1L694.5,800.0L695.5,800.1L696.5,800.2L697.5,800.0L698.5,800.6L699.5,799.5L700.5,800.8L701.5,799.6L702.5,800.0L703.5,801.3L704.5,800.1L705.5,800.1L706.5,801.2L707.5,800.5L708.5,800.4L709.5,800.5L710.5,800.8L711.5,800.9L712.5,802.1L713.5,800.7L714.5,800.5L715.5,797.2L716.5,794.1L717.5,791.1L718.5,789.9L719.5,787.4L720.5,786.5L721.5,786.1L722.5,786.5L723.5,785.5L724.5,788.9L725.5,797.0L726.5,805.1L727.5,812.0L728.5,813.9L729.5,812.0L730.5,805.8L731.5,797.3L732.5,789.7L733.5,786.8L734.5,787.1L735.5,790.7L736.5,795.1L737.5,800.9L738.5,803.9L739.5,804.6L740.5,804.7L741.5,803.8L742.5,803.7L743.5,803.8L744.5,803.6L745.5,804.0L746.5,804.2L747.5,804.7L748.5,803.6L749.5,804.9L750.5,804.0L751.5,804.5L752.5,804.9L753.5,804.6L754.5,803.9L755.5,804.8L756.5,803.8L757.5,803.7L758.5,805.4L759.5,804.2L760.5,804.9L761.5,804.3L762.5,805.1L763.5,804.5L764.5,805.5L765.5,804.6L766.5,805.8L767.5,804.8L768.5,804.7L769.5,804.8L770.5,805.8L771.5,805.7L772.5,806.2L773.5,805.2L774.5,806.4L775.5,806.4L776.5,806.7L777.5,805.8L778.5,805.5L779.5,806.6L780.5,806.8L781.5,805.7L782.5,805.7L783.5,805.6L784.5,806.7L785.5,805.8L786.5,806.5L787.5,806.1L788.5,805.6L789.5,806.0L790.5,806.0L791.5,806.0L792.5,807.0L793.5,807.0L794.5,806.7L795.5,807.1L796.5,807.1L797.5,807.1L798.5,806.9L799.5,806.6L800.5,805.8L801.5,805.8L802.5,806.8L803.5,805.7L804.5,805.8L805.5,806.0L806.5,806.8L807.5,807.2L808.5,806.4L809.5,806.0L810.5,806.2L811.5,806.0L812.5,806.1L813.5,807.2L814.5,806.2L815.5,806.4L816.5,807.1L817.5,806.4L818.5,807.4L819.5,807.8L820.5,808.0L821.5,806.4L822.5,807.8L823.5,807.8L824.5,807.2L825.5,806.9L826.5,807.3L827.5,807.1L828.5,806.9L829.5,808.3L830.5,808.4L831.5,808.5L832.5,807.1L833.5,808.2L834.5,808.5L835.5,807.5L836.5,808.7L837.5,807.4L838.5,807.4L839.5,808.3L840.5,807.2L841.5,807.2L842.5,807.8L843.5,807.7L844.5,807.9L845.5,806.7L846.5,807.2L847.5,807.6L848.5,806.8L849.5,806.4L850.5,806.9L851.5,807.3L852.5,805.9L853.5,807.0L854.5,806.1L855.5,806.5L856.5,806.3L857.5,806.5L858.5,806.2L859.5,805.4L860.5,804.8L861.5,806.0L862.5,805.8L863.5,805.2L864.5,805.2L865.5,804.2L866.5,805.1L867.5,804.0L868.5,804.6L869.5,804.8L870.5,804.6L871.5,803.0L872.5,803.0L873.5,803.7L874.5,802.9L875.5,803.2L876.5,802.0L877.5,802.6L878.5,803.0L879.5,801.5L880.5,801.7L881.5,802.5L882.5,801.5L883.5,800.9L884.5,801.0L885.5,802.1L886.5,801.1L887.5,801.0L888.5,800.6L889.5,800.4L890.5,800.6L891.5,802.1L892.5,801.2L893.5,801.1L894.5,802.8L895.5,801.6L896.5,801.6L897.5,802.1L898.5,801.7L899.5,801.9L900.5,803.0L901.5,803.3L902.5,803.6L903.5,802.6L904.5,800.7L905.5,803.8L906.5,801.9L907.5,801.3L908.5,802.8L909.5,802.5L910.5,802.9L911.5,798.6L912.5,802.0L913.5,798.3L914.5,798.1L915.5,802.2L916.5,796.0L917.5,796.1L918.5,800.4L919.5,795.8L920.5,800.3L921.5,799.7L922.5,795.4L923.5,795.9L924.5,798.2L925.5,798.6L926.5,795.0L927.5,798.9L928.5,798.5L929.5,792.3L930.5,797.6L931.5,797.9L932.5,795.9L933.5,796.9L934.5,796.1L935.5,791.5L936.5,796.3L937.5,790.3L938.5,790.5L939.5,796.3L940.5,795.3L941.5,790.3L942.5,794.4L943.5,790.7L944.5,789.5L945.5,790.0L946.5,789.6L947.5,793.8L948.5,792.2L949.5,792.7L950.5,794.3L951.5,786.9L952.5,792.7L953.5,786.3L954.5,789.2L955.5,789.4L956.5,785.2L957.5,785.1L958.5,789.8L959.5,788.0L960.5,784.9L961.5,784.8L962.5,789.6L963.5,790.8L964.5,790.0L965.5,792.3L966.5,786.2L967.5,791.4L968.5,787.4L969.5,791.9L970.5,790.1L971.5,794.8L972.5,790.0L973.5,789.3L974.5,789.6L975.5,798.1L976.5,800.5L977.5,794.7L978.5,793.5L979.5,800.4L980.5,803.9L981.5,808.1L982.5,808.2L983.5,802.1L984.5,801.2L985.5,804.6L986.5,800.9L987.5,802.8L988.5,801.6L989.5,802.4L990.5,806.1L991.5,815.7L992.5,811.3L993.5,802.6L994.5,818.9L995.5,808.2L996.5,806.5L997.5,818.2L998.5,808.8L999.5,807.7L1000.5,804.6L1001.5,820.2L1002.5,819.8L1003.5,820.1L1004.5,812.1L1005.5,825.5L1006.5,818.8L1007.5,820.9L1008.5,828.5L1009.5,826.5L1010.5,819.0L1011.5,831.7L1012.5,823.1L1013.5,825.3L1014.5,836.9L1015.5,840.9L1016.5,847.1L1017.5,836.4L1018.5,842.3L1019.5,838.9L1020.5,850.9L1021.5,852.0L1022.5,854.2L1023.5,853.4L1024.5,847.8L1025.5,847.7L1026.5,860.3L1027.5,852.5L1028.5,856.5L1029.5,863.2L1030.5,870.5L1031.5,865.3L1032.5,874.9L1033.5,874.0L1034.5,875.3L1035.5,866.2L1036.5,872.8L1037.5,869.3L1038.5,872.9L1039.5,867.2L1040.5,866.2L1041.5,863.1L1042.5,872.6L1043.5,860.9L1044.5,858.7L1045.5,858.2L1046.5,860.5L1047.5,858.9L1048.5,857.3L1049.5,851.5L1050.5,856.7L1051.5,858.8L1052.5,846.3L1053.5,853.9L1054.5,851.6L1055.5,847.0L1056.5,839.3L1057.5,842.7L1058.5,844.5L1059.5,834.9L1060.5,831.3L1061.5,825.8L1062.5,828.8L1063.5,827.5L1064.5,824.0L1065.5,821.6L1066.5,820.4L1067.5,825.4L1068.5,826.3L1069.5,828.4L1070.5,829.0L1071.5,828.9L1072.5,828.3L1073.5,829.4L1074.5,824.3L1075.5,828.0L1076.5,824.9L1077.5,826.2L1078.5,825.2L1079.5,828.5L1080.5,826.4L1081.5,831.6L1082.5,827.8L1083.5,834.5L1084.5,835.6L1085.5,837.4L1086.5,838.8L1087.5,841.2L1088.5,841.5L1089.5,841.6L1090.5,842.7L1091.5,839.7L1092.5,843.8L1093.5,845.0L1094.5,845.2L1095.5,844.0L1096.5,848.7L1097.5,849.5L1098.5,850.7L1099.5,851.8L1100.5,849.6L1101.5,849.7L1102.5,853.8L1103.5,856.0L1104.5,852.7L1105.5,858.7L1106.5,859.7L1107.5,860.5L1108.5,861.4L1109.5,858.1L1110.5,859.9L1111.5,866.2L1112.5,866.5L1113.5,864.8L1114.5,867.4L1115.5,864.0L1116.5,861.5L1117.5,857.0L1118.5,856.1L1119.5,849.1L1120.5,848.3L1121.5,846.1L1122.5,842.8L1123.5,843.5L1124.5,842.6L1125.5,841.0L1126.5,839.5L1127.5,838.8L1128.5,838.9L1129.5,837.3L1130.5,837.0L1131.5,836.4L1132.5,837.6L1133.5,837.9L1134.5,837.8L1135.5,838.0L1136.5,836.4L1137.5,837.8L1138.5,838.1L1139.5,837.8L1140.5,837.1L1141.5,838.2L1142.5,838.0L1143.5,837.9L1144.5,838.7L1145.5,838.8L1146.5,838.0L1147.5,838.8L1148.5,838.7L1149.5,839.2L1150.5,839.4L1151.5,839.8L1152.5,840.0L1153.5,840.6L1154.5,839.6L1155.5,841.1L1156.5,840.8L1157.5,842.7L1158.5,842.2L1159.5,842.9L1160.5,843.6L1161.5,843.5L1162.5,844.7L1163.5,845.2L1164.5,844.0L1165.5,845.2L1166.5,845.0L1167.5,843.4L1168.5,843.6L1169.5,844.0L1170.5,843.8L1171.5,843.9L1172.5,842.0L1173.5,842.0L1174.5,841.7L1175.5,841.6L1176.5,842.1L1177.5,840.5L1178.5,841.0L1179.5,841.2L1180.5,839.9L1181.5,840.2L1182.5,840.6L1183.5,840.1L1184.5,839.9L1185.5,839.3L1186.5,839.6L1187.5,838.5L1188.5,839.5L1189.5,838.2L1190.5,839.1L1191.5,838.7L1192.5,838.5L1193.5,837.6L1194.5,838.2L1195.5,837.2L1196.5,837.7L1197.5,837.6L1198.5,836.3L1199.5,836.6L1200.5,835.1L1201.5,835.3L1202.5,834.0L1203.5,833.9L1204.5,832.4L1205.5,831.9L1206.5,832.3L1207.5,832.2L1208.5,831.6L1209.5,830.0L1210.5,830.1L1211.5,830.7L1212.5,829.5L1213.5,830.8L1214.5,829.9L1215.5,831.3L1216.5,830.8L1217.5,831.7L1218.5,832.1L1219.5,831.1L1220.5,831.3L1221.5,830.5L1222.5,829.2L1223.5,828.3L1224.5,826.6L1225.5,824.8L1226.5,823.6L1227.5,822.1L1228.5,820.6L1229.5,819.3L1230.5,818.0L1231.5,816.0L1232.5,814.3L1233.5,812.9L1234.5,812.6L1235.5,811.5L1236.5,809.8L1237.5,808.6L1238.5,806.7L1239.5,805.3L1240.5,805.3L1241.5,802.9L1242.5,803.5L1243.5,802.0L1244.5,801.7L1245.5,800.2L1246.5,798.9L1247.5,798.9L1248.5,798.6L1249.5,799.1L1250.5,797.9L1251.5,797.5L1252.5,798.2L1253.5,797.9L1254.5,797.0L1255.5,794.9L1256.5,793.0L1257.5,791.5L1258.5,790.5L1259.5,787.8L1260.5,785.7L1261.5,783.3L1262.5,780.8L1263.5,779.7L1264.5,776.9L1265.5,774.8L1266.5,772.0L1267.5,769.8L1268.5,767.5L1269.5,764.9L1270.5,763.6L1271.5,760.7L1272.5,758.2L1273.5,757.3L1274.5,754.5L1275.5,752.6L1276.5,751.8L1277.5,749.9L1278.5,749.0L1279.5,747.7L1280.5,744.9L1281.5,744.0L1282.5,743.3L1283.5,741.2L1284.5,741.1L1285.5,738.6L1286.5,737.9L1287.5,736.5L1288.5,734.0L1289.5,732.3L1290.5,729.8L1291.5,726.8L1292.5,724.3L1293.5,722.0L1294.5,720.8L1295.5,717.7L1296.5,717.0L1297.5,714.8L1298.5,712.9L1299.5,711.2L1300.5,711.8L1301.5,711.0L1302.5,710.8L1303.5,709.9L1304.5,709.0L1305.5,708.8L1306.5,708.1L1307.5,709.2L1308.5,709.4L1309.5,709.5L1310.5,709.3L1311.5,710.2L1312.5,712.7L1313.5,714.6L1314.5,716.1L1315.5,717.3L1316.5,719.1L1317.5,718.6L1318.5,719.2L1319.5,720.2L1320.5,719.1L1321.5,716.4L1322.5,715.1L1323.5,712.0L1324.5,709.4L1325.5,707.3L1326.5,703.5L1327.5,701.1L1328.5,700.3L1329.5,698.6L1330.5,696.9L1331.5,698.4L1332.5,698.6L1333.5,697.5L1334.5,698.0L1335.5,699.9L1336.5,699.4L1337.5,700.5L1338.5,700.8L1339.5,702.9L1340.5,702.9L1341.5,703.1L1342.5,703.7L1343.5,704.9L1344.5,704.0L1345.5,703.4L1346.5,703.8L1347.5,701.6L1348.5,701.2L1349.5,700.0L1350.5,697.7L1351.5,696.5L1352.5,694.1L1353.5,693.0L1354.5,690.6L1355.5,689.9L1356.5,687.9L1357.5,687.2L1358.5,687.2L1359.5,686.1L1360.5,687.0L1361.5,688.0L1362.5,688.7L1363.5,691.1L1364.5,693.5L1365.5,695.5L1366.5,697.5L1367.5,699.0L1368.5,700.9L1369.5,703.0L1370.5,703.7L1371.5,702.2L1372.5,700.9L1373.5,699.0L1374.5,696.1L1375.5,692.9L1376.5,689.1L1377.5,685.7L1378.5,682.8L1379.5,678.9L1380.5,675.7L1381.5,673.4L1382.5,672.6L1383.5,670.5L1384.5,668.6L1385.5,668.3L1386.5,666.7L1387.5,665.3L1388.5,663.2L1389.5,663.7L1390.5,662.0L1391.5,660.1L1392.5,660.4L1393.5,658.3L1394.5,657.5L1395.5,657.1L1396.5,656.6L1397.5,655.5L1398.5,654.9L1399.5,654.0L1400.5,652.5L1401.5,652.2L1402.5,651.6L1403.5,649.7L1404.5,649.7L1405.5,648.4L1406.5,648.1L1407.5,648.0L1408.5,646.8L1409.5,645.9L1410.5,644.7L1411.5,644.3L1412.5,644.6L1413.5,643.5L1414.5,644.1L1415.5,643.1L1416.5,643.4L1417.5,642.8L1418.5,641.9L1419.5,641.9L1420.5,641.6L1421.5,641.3L1422.5,641.3L1423.5,641.6L1424.5,640.3L1425.5,639.5L1426.5,640.0L1427.5,638.9L1428.5,637.2L1429.5,634.8L1430.5,633.8L1431.5,631.4L1432.5,630.2L1433.5,628.0L1434.5,626.8L1435.5,624.8L1436.5,623.1L1437.5,620.6L1438.5,619.2L1439.5,618.0L1440.5,617.9L1441.5,616.9L1442.5,615.2L1443.5,615.1L1444.5,615.4L1445.5,615.1L1446.5,616.4L1447.5,615.8L1448.5,616.1L1449.5,616.7L1450.5,617.9L1451.5,617.8L1452.5,617.4L1453.5,618.1L1454.5,616.9L1455.5,617.7L1456.5,616.1L1457.5,615.1L1458.5,615.3L1459.5,612.9L1460.5,612.3L1461.5,610.0L1462.5,608.4L1463.5,607.0L1464.5,604.8L1465.5,603.7L1466.2,602.5" fill="none" stroke="#ff00ff" stroke-width="7.7" stroke-linejoin="round" stroke-linecap="round"/>
</g>
<path d="M503.3,94.2V120.7M503.3,144.8V171.3M503.3,195.4V221.9M503.3,246.0V272.5M503.3,296.6V323.1M503.3,347.2V373.7M503.3,397.8V424.3M503.3,448.4V474.9M503.3,499.0V525.5M503.3,549.6V576.1M503.3,600.2V626.7M503.3,650.8V677.3M503.3,701.4V727.9M503.3,752.0V778.5M503.3,802.6V829.1M503.3,853.2V879.7" stroke="#000" stroke-width="5.5" stroke-linecap="butt" fill="none"/>
<path d="M530.1,66.6V93.1M530.1,117.2V143.7M530.1,167.8V194.3M530.1,218.4V244.9M530.1,269.0V295.5M530.1,319.6V346.1M530.1,370.2V396.7M530.1,420.8V447.3M530.1,471.4V497.9M530.1,522.0V548.5M530.1,572.6V599.1M530.1,623.2V649.7M530.1,673.8V700.3M530.1,724.4V750.9M530.1,775.0V801.5M530.1,825.6V852.1" stroke="#000" stroke-width="5.5" stroke-linecap="butt" fill="none"/>
<path d="M1038.5,112.6V139.1M1038.5,163.2V189.7M1038.5,213.8V240.3M1038.5,264.4V290.9M1038.5,315.0V341.5M1038.5,365.6V392.1M1038.5,416.2V442.7M1038.5,466.8V493.3M1038.5,517.4V543.9M1038.5,568.0V594.5M1038.5,618.6V645.1M1038.5,669.2V695.7M1038.5,719.8V746.3M1038.5,770.4V796.9M1038.5,821.0V847.5M1038.5,871.6V898.1" stroke="#000" stroke-width="5.5" stroke-linecap="butt" fill="none"/>
<path d="M1114.8,117.0V143.5M1114.8,167.6V194.1M1114.8,218.2V244.7M1114.8,268.8V295.3M1114.8,319.4V345.9M1114.8,370.0V396.5M1114.8,420.6V447.1M1114.8,471.2V497.7M1114.8,521.8V548.3M1114.8,572.4V598.9M1114.8,623.0V649.5M1114.8,673.6V700.1M1114.8,724.2V750.7M1114.8,774.8V801.3M1114.8,825.4V851.9M1114.8,876.0V902.5" stroke="#000" stroke-width="5.5" stroke-linecap="butt" fill="none"/>
<rect x="74.0" y="26.0" width="1393.4" height="1023.6" fill="none" stroke="#000" stroke-width="5.5"/>
<path d="M74.0,1049.6V1072.1M173.5,1049.6V1062.1M273.1,1049.6V1072.1M372.6,1049.6V1062.1M472.1,1049.6V1072.1M571.6,1049.6V1062.1M671.2,1049.6V1072.1M770.7,1049.6V1062.1M870.2,1049.6V1072.1M969.8,1049.6V1062.1M1069.3,1049.6V1072.1M1168.8,1049.6V1062.1M1268.3,1049.6V1072.1M1367.9,1049.6V1062.1M1467.4,1049.6V1072.1" stroke="#000" stroke-width="5.5" fill="none"/>
<text x="74.0" y="1126.7" font-size="55" text-anchor="middle">4000</text>
<text x="273.1" y="1126.7" font-size="55" text-anchor="middle">3500</text>
<text x="472.1" y="1126.7" font-size="55" text-anchor="middle">3000</text>
<text x="671.2" y="1126.7" font-size="55" text-anchor="middle">2500</text>
<text x="870.2" y="1126.7" font-size="55" text-anchor="middle">2000</text>
<text x="1069.3" y="1126.7" font-size="55" text-anchor="middle">1500</text>
<text x="1268.3" y="1126.7" font-size="55" text-anchor="middle">1000</text>
<text x="1467.4" y="1126.7" font-size="55" text-anchor="middle">500</text>
<text x="808" y="78.9" font-size="55">EP</text>
<text x="742" y="317.6" font-size="55">EP/CNTs</text>
<text x="736.6" y="481.7" font-size="55">EP/ZHS</text>
<text x="618.4" y="778.3" font-size="55">EP/ZHS-CNTs</text>
<text x="386.3" y="931.3" font-size="55">2922</text>
<text x="511.4" y="911.5" font-size="55">2845</text>
<text x="958" y="939.1" font-size="55">1577</text>
<text x="1078.3" y="946.8" font-size="55">1380</text>
<text x="502" y="1228" font-size="64">Wavenumber <tspan dx="2">(cm</tspan><tspan dy="-28.5" font-size="30">-<tspan dx="2">1</tspan></tspan><tspan dy="28.5" dx="-1">)</tspan></text>
</svg></body></html>
